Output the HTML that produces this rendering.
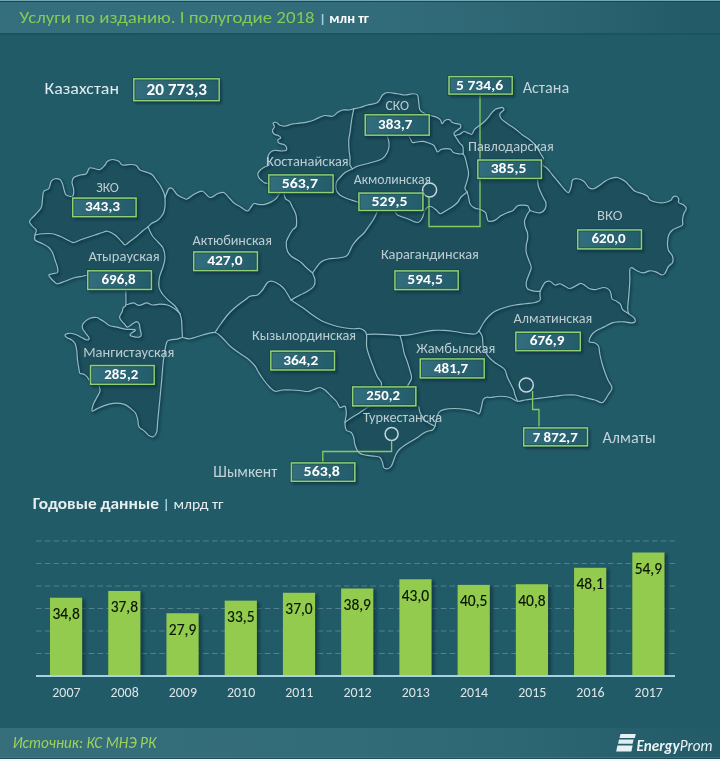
<!DOCTYPE html>
<html><head><meta charset="utf-8">
<style>
html,body{margin:0;padding:0;}
body{width:720px;height:761px;overflow:hidden;position:relative;background:#225b68;font-family:Carlito, 'Liberation Sans', sans-serif;}
#hdr{position:absolute;left:0;top:0;width:720px;height:33px;background:linear-gradient(90deg,#356e7c 0%,#326b79 55%,#2b6371 80%,#235b68 96%);}
#hl1{position:absolute;left:0;top:0;width:720px;height:1px;background:#72a6b3;}
#hl2{position:absolute;left:0;top:1px;width:720px;height:1px;background:#154957;}
#hsh{position:absolute;left:0;top:33px;width:720px;height:3px;background:linear-gradient(180deg,rgba(15,55,65,.35),rgba(15,55,65,0));}
#ftr{position:absolute;left:0;top:728px;width:720px;height:30px;background:linear-gradient(90deg,#366e7b 0%,#336c79 50%,#2d6673 75%,#255d6a 92%,#235b69 100%);}
#fl0{position:absolute;left:0;top:756.5px;width:720px;height:1px;background:rgba(80,125,138,.5);}
#fl1{position:absolute;left:0;top:757.5px;width:720px;height:1.6px;background:#214e5a;}
#fl2{position:absolute;left:0;top:759.2px;width:720px;height:2px;background:#f2f7f8;}
svg{position:absolute;left:0;top:0;}
svg text{font-family:Carlito, 'Liberation Sans', sans-serif;}
.map path{fill:none;stroke:#95bac4;stroke-width:1.2;stroke-linejoin:round;stroke-linecap:round;}
.mapsh path{fill:none;stroke:#0a2e3a;stroke-width:2.2;stroke-linejoin:round;opacity:.6}
.bs{fill:#0b2f3a;opacity:.6;filter:url(#blur1)}
.bx{fill:url(#bxg);stroke:#8fd074;stroke-width:1.55;}
.bxo{fill:none;stroke:#123b47;stroke-width:1;opacity:.6}
.bxi{fill:none;stroke:#1f4f3c;stroke-width:0.8;opacity:.7}
.grid{stroke:#8fb0ba;stroke-width:0.9;stroke-dasharray:5.5 3.3;opacity:.5}
.bar{fill:#92cb4e;}
.shd{fill:#0b2f3b;opacity:.65;filter:url(#blur2)}
.bv{font-size:15.6px;fill:#0a1406;text-anchor:middle;stroke:#0a1406;stroke-width:0.15px}
.yr{font-size:14px;fill:#dbe5e8;text-anchor:middle;}
.ld{fill:none;stroke:#86cb62;stroke-width:1.3;}
.city{fill:none;stroke:#c3d6db;stroke-width:1.5;}
</style></head><body>
<div id="hdr"></div><div id="hl1"></div><div id="hl2"></div><div id="hsh"></div>
<div id="ftr"></div><div id="fl0"></div><div id="fl1"></div><div id="fl2"></div>
<svg width="720" height="761" viewBox="0 0 720 761">
<defs>
<filter id="blur0" x="-5%" y="-5%" width="110%" height="110%"><feGaussianBlur stdDeviation="0.8"/></filter>
<filter id="blur1" x="-20%" y="-40%" width="140%" height="180%"><feGaussianBlur stdDeviation="1.3"/></filter>
<filter id="blur2" x="-30%" y="-10%" width="160%" height="120%"><feGaussianBlur stdDeviation="1.5"/></filter>
<linearGradient id="bxg" x1="0" x2="1" y1="0" y2="0"><stop offset="0" stop-color="#326e7e"/><stop offset="1" stop-color="#235c6a"/></linearGradient>
</defs>
<rect x="321.8" y="14" width="1.6" height="11" fill="#9ccfe0"/>
<path d="M35,235 L36.25,230 L32.5,226.25 L29.5,221.25 L35,215 L41.25,207.5 L42.5,198.75 L43.75,191.25 L48.75,188.75 L51.25,181.25 L55,178.75 L60,179.5 L62.5,183.75 L64.5,191.25 L66.25,195 L72.5,196.25 L73.75,190 L72,182.5 L73.75,177.5 L80,175 L86.25,173.75 L89.5,168 L95,168.75 L100,169.5 L105,165 L107.5,161.25 L112.5,159.5 L118.75,161.25 L122.5,165 L130,164.5 L136.25,165.5 L140,170 L147.5,172.5 L152.5,175 L156.25,180 L160,185 L163.75,192.5 L165,197.5 L165,197.5 L168.75,188.75 L172.5,188.75 L177.5,195 L185,198.75 L187.5,198.75 L195,193.75 L202.5,191.25 L210,197.5 L217.5,193.75 L223.75,192.5 L230,198.75 L234,203 L240,206.5 L247.5,211 L251,207 L254,203.5 L258,204.4 L264.7,204.4 L270.3,202.4 L275.8,198.9 L278.6,194.7 L280,193 L275,190 L269,183.6 L264.7,182.9 L261.9,180.8 L259.2,178.1 L257.8,173.9 L260.6,169.7 L264.7,166.9 L268.9,164.9 L268.2,160 L268.2,155.8 L270.3,152.4 L274.4,150.3 L281.4,151 L286.25,150.3 L286.25,146.8 L284.2,144.7 L279.3,143.3 L277.9,139.9 L280.7,137.8 L278.6,135.7 L274.4,134.3 L272.4,130.8 L274.4,126.7 L273.1,123.2 L276.5,122.5 L280,125.3 L285.6,126 L292.5,123.9 L299.4,123.2 L307.8,121.8 L314.7,119.7 L318.9,117.6 L325,115.5 L332.5,116.25 L337.5,112.5 L342.5,110 L348.75,110 L353.75,108.75 L360,107.5 L367.5,105 L377.5,102.5 L382.5,95 L387.5,92.5 L397.5,93.75 L405,95 L412.5,93.75 L417.5,95 L418.75,102.5 L420,110 L425,113.75 L430,115.5 L436.3,117.1 L440.2,119.7 L442.2,123.7 L444.8,120.4 L449.4,119.7 L452,122.3 L456,123.7 L459.9,124.3 L460.6,127.6 L457.3,130.2 L454,132.9 L454.7,135.5 L459.9,134.2 L463.9,131.5 L467.8,132.9 L471.8,134.2 L474.4,129.6 L478.3,126.3 L483.6,122.3 L487.5,118.4 L491.5,113.1 L495.4,109.2 L500,107.9 L502.5,107.5 L503.75,110 L500,113.75 L501.25,118.75 L507.5,123.75 L515,128.75 L522.5,135 L530,140 L536.25,146.25 L540,152.5 L543.75,158.75 L542,164 L543.75,166 L547.5,168.75 L552.5,175 L558.75,182.5 L565,190 L568.75,192.5 L571.25,186.25 L572.5,180 L577.5,178.75 L583.75,181.25 L588.75,187.5 L593.75,188.75 L600,185 L605,181.25 L610,178.75 L617.5,177.5 L625,181.25 L630,186.25 L635,191.25 L642.5,193.75 L647.5,196.25 L650,200 L657.5,202.5 L665,202.5 L671.25,200 L672.5,197.5 L676.25,196.25 L678.75,198.75 L678.75,202.5 L683.75,205 L686.25,208.75 L683.75,213.75 L682.5,220 L682.5,225 L677.5,227.5 L672.5,230 L668.75,235 L667.5,242.5 L668.3,250 L672.5,256.25 L672.5,262.5 L668.3,266.7 L665.2,272.9 L662.1,275 L655.8,271.9 L649.6,270.8 L643.3,272.9 L637.1,270.8 L631.9,267.7 L629.8,269.8 L629.8,281.25 L628.75,295.8 L627.7,308.3 L628.75,313.5 L634,317.7 L635,321.9 L630.8,322.9 L624.6,321.9 L618.3,321.9 L612.1,322.9 L603.75,327.1 L595.4,331.25 L591.25,335.4 L589.2,341.7 L594.4,342.7 L598.5,346 L600,355 L602.5,365 L605,372.5 L608,380 L612,388 L608,395 L602.5,402.5 L595,400 L585,397.5 L575,395 L565,395 L555,396.25 L545,397.5 L535,398.75 L525,400 L517.5,401.25 L510,397.5 L500,396.25 L490,397.5 L487.5,397.1 L483.3,399.2 L481.25,407.5 L479.2,413.75 L475,411.7 L466.7,409.6 L454.2,408.5 L443.75,409.6 L438.75,412.5 L436.25,420 L435,426.25 L432.5,430 L427.5,431.25 L422.5,433.75 L417.5,437.5 L411.25,441.25 L405,445 L400,448.75 L396.25,453.75 L393.75,460 L391.25,466.25 L387.5,468.75 L383.75,467.5 L382.5,462.5 L380,457.5 L375,456.25 L365,455 L358.75,452.5 L355,445 L353.75,437.5 L351.25,432.5 L346.25,430 L345,422.5 L346.25,414 L345,406.25 L340,407.5 L336.5,401.5 L331,396 L325,390 L320,387.5 L314,389.5 L308,391.5 L300,390.5 L292.5,390 L282.5,390 L275,391.25 L270,387.5 L263.75,380 L258.75,372.5 L255,366 L247.5,358.5 L240,353.5 L230,346 L222.5,338 L215,332.5 L202.5,335 L190,338.75 L182.5,337.5 L177.8,338.9 L170,340 L166.7,342.2 L164.4,353.3 L163.2,362 L162.5,370 L161.5,382 L160,397.8 L157.8,420 L156.7,432.2 L153.3,436.7 L148.9,435.6 L144.4,431.1 L138.9,426.7 L137.8,420 L135.6,413.3 L131.1,408.9 L124.4,404.4 L113.3,403.3 L104.4,405.6 L96.7,408.9 L92.2,411.1 L93.3,404.4 L96.7,397.8 L100,391.1 L98.9,385.6 L97,384 L89,380 L87.8,377.8 L84.4,374.4 L80,373.3 L78.9,368.9 L77.5,360 L76.7,350 L75,343.3 L71.7,340 L66.7,337.5 L65,335 L68.3,333.3 L75,334.2 L81.7,337.5 L86.7,340 L89.2,338.3 L85.8,333.3 L82.5,328.3 L83.3,323.3 L90,318.3 L96.7,317.5 L100,319.2 L104.2,321.7 L110,325.8 L116.7,327.1 L125,329.2 L134.2,329.6 L135,330.8 L131.7,332.9 L130,335 L133.3,336.7 L139.2,337.1 L141.25,335 L140,328.3 L139.2,323.75 L136.7,321.7 L133.3,323.3 L127.5,327.1 L124.2,323.75 L120.8,320 L119.6,316.7 L122.1,311.7 L123.3,307.5 L125.8,305 L125.8,291 L125.8,285 L88,275 L82.5,276.25 L75,277.5 L65,281.25 L57.5,283.75 L55,282.5 L51.25,278.75 L48.75,275 L52.5,273.75 L57.5,272.5 L57.5,267.5 L55,260 L52.5,252.5 L48.75,247.5 L42.5,243.75 L35,240 L35,235 Z" fill="#1d4f5d"/>
<g class="mapsh" transform="translate(1.2,1.5)" filter="url(#blur0)"><path d="M35.00,235.00 C35.21,234.17 36.67,231.46 36.25,230.00 C35.83,228.54 33.62,227.71 32.50,226.25 C31.38,224.79 29.08,223.12 29.50,221.25 C29.92,219.38 33.04,217.29 35.00,215.00 C36.96,212.71 40.00,210.21 41.25,207.50 C42.50,204.79 42.08,201.46 42.50,198.75 C42.92,196.04 42.71,192.92 43.75,191.25 C44.79,189.58 47.50,190.42 48.75,188.75 C50.00,187.08 50.21,182.92 51.25,181.25 C52.29,179.58 53.54,179.04 55.00,178.75 C56.46,178.46 58.75,178.67 60.00,179.50 C61.25,180.33 61.75,181.79 62.50,183.75 C63.25,185.71 63.88,189.38 64.50,191.25 C65.12,193.12 64.92,194.17 66.25,195.00 C67.58,195.83 71.25,197.08 72.50,196.25 C73.75,195.42 73.83,192.29 73.75,190.00 C73.67,187.71 72.00,184.58 72.00,182.50 C72.00,180.42 72.42,178.75 73.75,177.50 C75.08,176.25 77.92,175.62 80.00,175.00 C82.08,174.38 84.67,174.92 86.25,173.75 C87.83,172.58 88.04,168.83 89.50,168.00 C90.96,167.17 93.25,168.50 95.00,168.75 C96.75,169.00 98.33,170.12 100.00,169.50 C101.67,168.88 103.75,166.38 105.00,165.00 C106.25,163.62 106.25,162.17 107.50,161.25 C108.75,160.33 110.62,159.50 112.50,159.50 C114.38,159.50 117.08,160.33 118.75,161.25 C120.42,162.17 120.62,164.46 122.50,165.00 C124.38,165.54 127.71,164.42 130.00,164.50 C132.29,164.58 134.58,164.58 136.25,165.50 C137.92,166.42 138.12,168.83 140.00,170.00 C141.88,171.17 145.42,171.67 147.50,172.50 C149.58,173.33 151.04,173.75 152.50,175.00 C153.96,176.25 155.00,178.33 156.25,180.00 C157.50,181.67 158.75,182.92 160.00,185.00 C161.25,187.08 162.92,190.42 163.75,192.50 C164.58,194.58 164.79,196.67 165.00,197.50"/><path d="M165.00,197.50 C165.62,196.04 167.50,190.21 168.75,188.75 C170.00,187.29 171.04,187.71 172.50,188.75 C173.96,189.79 175.42,193.33 177.50,195.00 C179.58,196.67 183.33,198.12 185.00,198.75 C186.67,199.38 185.83,199.58 187.50,198.75 C189.17,197.92 192.50,195.00 195.00,193.75 C197.50,192.50 200.00,190.62 202.50,191.25 C205.00,191.88 207.50,197.08 210.00,197.50 C212.50,197.92 215.21,194.58 217.50,193.75 C219.79,192.92 221.67,191.67 223.75,192.50 C225.83,193.33 228.29,197.00 230.00,198.75 C231.71,200.50 232.33,201.71 234.00,203.00 C235.67,204.29 237.75,205.17 240.00,206.50 C242.25,207.83 245.67,210.92 247.50,211.00 C249.33,211.08 249.92,208.25 251.00,207.00 C252.08,205.75 252.83,203.93 254.00,203.50 C255.17,203.07 256.22,204.25 258.00,204.40 C259.78,204.55 262.65,204.73 264.70,204.40 C266.75,204.07 268.45,203.32 270.30,202.40 C272.15,201.48 274.42,200.18 275.80,198.90 C277.18,197.62 277.90,195.68 278.60,194.70 C279.30,193.72 279.77,193.28 280.00,193.00"/><path d="M269.00,183.60 C268.28,183.48 265.88,183.37 264.70,182.90 C263.52,182.43 262.82,181.60 261.90,180.80 C260.98,180.00 259.88,179.25 259.20,178.10 C258.52,176.95 257.57,175.30 257.80,173.90 C258.03,172.50 259.45,170.87 260.60,169.70 C261.75,168.53 263.32,167.70 264.70,166.90 C266.08,166.10 268.32,166.05 268.90,164.90 C269.48,163.75 268.32,161.52 268.20,160.00 C268.08,158.48 267.85,157.07 268.20,155.80 C268.55,154.53 269.27,153.32 270.30,152.40 C271.33,151.48 272.55,150.53 274.40,150.30 C276.25,150.07 279.42,151.00 281.40,151.00 C283.38,151.00 285.44,151.00 286.25,150.30 C287.06,149.60 286.59,147.73 286.25,146.80 C285.91,145.87 285.36,145.28 284.20,144.70 C283.04,144.12 280.35,144.10 279.30,143.30 C278.25,142.50 277.67,140.82 277.90,139.90 C278.13,138.98 280.58,138.50 280.70,137.80 C280.82,137.10 279.65,136.28 278.60,135.70 C277.55,135.12 275.43,135.12 274.40,134.30 C273.37,133.48 272.40,132.07 272.40,130.80 C272.40,129.53 274.28,127.97 274.40,126.70 C274.52,125.43 272.75,123.90 273.10,123.20 C273.45,122.50 275.35,122.15 276.50,122.50 C277.65,122.85 278.48,124.72 280.00,125.30 C281.52,125.88 283.52,126.23 285.60,126.00 C287.68,125.77 290.20,124.37 292.50,123.90 C294.80,123.43 296.85,123.55 299.40,123.20 C301.95,122.85 305.25,122.38 307.80,121.80 C310.35,121.22 312.85,120.40 314.70,119.70 C316.55,119.00 317.18,118.30 318.90,117.60 C320.62,116.90 322.73,115.72 325.00,115.50 C327.27,115.28 330.42,116.75 332.50,116.25 C334.58,115.75 335.83,113.54 337.50,112.50 C339.17,111.46 340.62,110.42 342.50,110.00 C344.38,109.58 346.88,110.21 348.75,110.00 C350.62,109.79 352.92,108.96 353.75,108.75"/><path d="M353.75,108.75 C354.79,108.54 357.71,108.12 360.00,107.50 C362.29,106.88 364.58,105.83 367.50,105.00 C370.42,104.17 375.00,104.17 377.50,102.50 C380.00,100.83 380.83,96.67 382.50,95.00 C384.17,93.33 385.00,92.71 387.50,92.50 C390.00,92.29 394.58,93.33 397.50,93.75 C400.42,94.17 402.50,95.00 405.00,95.00 C407.50,95.00 410.42,93.75 412.50,93.75 C414.58,93.75 416.46,93.54 417.50,95.00 C418.54,96.46 418.33,100.00 418.75,102.50 C419.17,105.00 418.96,108.12 420.00,110.00 C421.04,111.88 423.33,112.83 425.00,113.75 C426.67,114.67 428.12,114.94 430.00,115.50 C431.88,116.06 434.60,116.40 436.30,117.10 C438.00,117.80 439.22,118.60 440.20,119.70 C441.18,120.80 441.43,123.58 442.20,123.70 C442.97,123.82 443.60,121.07 444.80,120.40 C446.00,119.73 448.20,119.38 449.40,119.70 C450.60,120.02 450.90,121.63 452.00,122.30 C453.10,122.97 454.68,123.37 456.00,123.70 C457.32,124.03 459.13,123.65 459.90,124.30 C460.67,124.95 461.03,126.62 460.60,127.60 C460.17,128.58 458.40,129.32 457.30,130.20 C456.20,131.08 454.43,132.02 454.00,132.90 C453.57,133.78 454.58,135.07 454.70,135.50"/><path d="M454.70,135.50 C455.57,135.28 458.37,134.87 459.90,134.20 C461.43,133.53 462.58,131.72 463.90,131.50 C465.22,131.28 466.48,132.45 467.80,132.90 C469.12,133.35 470.70,134.75 471.80,134.20 C472.90,133.65 473.32,130.92 474.40,129.60 C475.48,128.28 476.77,127.52 478.30,126.30 C479.83,125.08 482.07,123.62 483.60,122.30 C485.13,120.98 486.18,119.93 487.50,118.40 C488.82,116.87 490.18,114.63 491.50,113.10 C492.82,111.57 493.98,110.07 495.40,109.20 C496.82,108.33 498.82,108.18 500.00,107.90 C501.18,107.62 501.88,107.15 502.50,107.50 C503.12,107.85 504.17,108.96 503.75,110.00 C503.33,111.04 500.42,112.29 500.00,113.75 C499.58,115.21 500.00,117.08 501.25,118.75 C502.50,120.42 505.21,122.08 507.50,123.75 C509.79,125.42 512.50,126.88 515.00,128.75 C517.50,130.62 520.00,133.12 522.50,135.00 C525.00,136.88 527.71,138.12 530.00,140.00 C532.29,141.88 534.58,144.17 536.25,146.25 C537.92,148.33 538.75,150.42 540.00,152.50 C541.25,154.58 543.12,157.71 543.75,158.75"/><path d="M542.00,164.00 C542.29,164.33 542.83,165.21 543.75,166.00 C544.67,166.79 546.04,167.25 547.50,168.75 C548.96,170.25 550.62,172.71 552.50,175.00 C554.38,177.29 556.67,180.00 558.75,182.50 C560.83,185.00 563.33,188.33 565.00,190.00 C566.67,191.67 567.71,193.12 568.75,192.50 C569.79,191.88 570.62,188.33 571.25,186.25 C571.88,184.17 571.46,181.25 572.50,180.00 C573.54,178.75 575.62,178.54 577.50,178.75 C579.38,178.96 581.88,179.79 583.75,181.25 C585.62,182.71 587.08,186.25 588.75,187.50 C590.42,188.75 591.88,189.17 593.75,188.75 C595.62,188.33 598.12,186.25 600.00,185.00 C601.88,183.75 603.33,182.29 605.00,181.25 C606.67,180.21 607.92,179.38 610.00,178.75 C612.08,178.12 615.00,177.08 617.50,177.50 C620.00,177.92 622.92,179.79 625.00,181.25 C627.08,182.71 628.33,184.58 630.00,186.25 C631.67,187.92 632.92,190.00 635.00,191.25 C637.08,192.50 640.42,192.92 642.50,193.75 C644.58,194.58 646.25,195.21 647.50,196.25 C648.75,197.29 648.33,198.96 650.00,200.00 C651.67,201.04 655.00,202.08 657.50,202.50 C660.00,202.92 662.71,202.92 665.00,202.50 C667.29,202.08 670.00,200.83 671.25,200.00 C672.50,199.17 671.67,198.12 672.50,197.50 C673.33,196.88 675.21,196.04 676.25,196.25 C677.29,196.46 678.33,197.71 678.75,198.75 C679.17,199.79 677.92,201.46 678.75,202.50 C679.58,203.54 682.50,203.96 683.75,205.00 C685.00,206.04 686.25,207.29 686.25,208.75 C686.25,210.21 684.38,211.88 683.75,213.75 C683.12,215.62 682.71,218.12 682.50,220.00 C682.29,221.88 683.33,223.75 682.50,225.00 C681.67,226.25 679.17,226.67 677.50,227.50 C675.83,228.33 673.96,228.75 672.50,230.00 C671.04,231.25 669.58,232.92 668.75,235.00 C667.92,237.08 667.58,240.00 667.50,242.50 C667.42,245.00 667.47,247.71 668.30,250.00 C669.13,252.29 671.80,254.17 672.50,256.25 C673.20,258.33 673.20,260.76 672.50,262.50 C671.80,264.24 669.52,264.97 668.30,266.70 C667.08,268.43 666.23,271.52 665.20,272.90 C664.17,274.28 663.67,275.17 662.10,275.00 C660.53,274.83 657.88,272.60 655.80,271.90 C653.72,271.20 651.68,270.63 649.60,270.80 C647.52,270.97 645.38,272.90 643.30,272.90 C641.22,272.90 639.00,271.67 637.10,270.80 C635.20,269.93 633.12,267.87 631.90,267.70 C630.68,267.53 630.15,267.54 629.80,269.80 C629.45,272.06 629.97,276.92 629.80,281.25 C629.62,285.58 629.10,291.29 628.75,295.80 C628.40,300.31 627.70,305.35 627.70,308.30 C627.70,311.25 627.70,311.93 628.75,313.50 C629.80,315.07 632.96,316.30 634.00,317.70 C635.04,319.10 635.53,321.03 635.00,321.90 C634.47,322.77 632.53,322.90 630.80,322.90 C629.07,322.90 626.68,322.07 624.60,321.90 C622.52,321.73 620.38,321.73 618.30,321.90 C616.22,322.07 614.52,322.03 612.10,322.90 C609.68,323.77 606.53,325.71 603.75,327.10 C600.97,328.49 597.48,329.87 595.40,331.25 C593.32,332.63 592.28,333.66 591.25,335.40 C590.22,337.14 588.68,340.48 589.20,341.70 C589.73,342.92 592.85,341.98 594.40,342.70 C595.95,343.42 597.57,343.95 598.50,346.00 C599.43,348.05 599.33,351.83 600.00,355.00 C600.67,358.17 601.67,362.08 602.50,365.00 C603.33,367.92 604.08,370.00 605.00,372.50 C605.92,375.00 606.83,377.42 608.00,380.00 C609.17,382.58 612.00,385.50 612.00,388.00 C612.00,390.50 609.58,392.58 608.00,395.00 C606.42,397.42 604.67,401.67 602.50,402.50 C600.33,403.33 597.92,400.83 595.00,400.00 C592.08,399.17 588.33,398.33 585.00,397.50 C581.67,396.67 578.33,395.42 575.00,395.00 C571.67,394.58 568.33,394.79 565.00,395.00 C561.67,395.21 558.33,395.83 555.00,396.25 C551.67,396.67 548.33,397.08 545.00,397.50 C541.67,397.92 538.33,398.33 535.00,398.75 C531.67,399.17 527.92,399.58 525.00,400.00 C522.08,400.42 520.00,401.67 517.50,401.25 C515.00,400.83 512.92,398.33 510.00,397.50 C507.08,396.67 503.33,396.25 500.00,396.25 C496.67,396.25 492.08,397.36 490.00,397.50 C487.92,397.64 488.62,396.82 487.50,397.10 C486.38,397.38 484.34,397.47 483.30,399.20 C482.26,400.93 481.93,405.07 481.25,407.50 C480.57,409.93 480.24,413.05 479.20,413.75 C478.16,414.45 477.08,412.39 475.00,411.70 C472.92,411.01 470.17,410.13 466.70,409.60 C463.23,409.07 458.02,408.50 454.20,408.50 C450.38,408.50 446.32,408.93 443.75,409.60 C441.18,410.27 440.00,410.77 438.75,412.50 C437.50,414.23 436.88,417.71 436.25,420.00 C435.62,422.29 435.62,424.58 435.00,426.25 C434.38,427.92 433.75,429.17 432.50,430.00 C431.25,430.83 429.17,430.62 427.50,431.25 C425.83,431.88 424.17,432.71 422.50,433.75 C420.83,434.79 419.38,436.25 417.50,437.50 C415.62,438.75 413.33,440.00 411.25,441.25 C409.17,442.50 406.88,443.75 405.00,445.00 C403.12,446.25 401.46,447.29 400.00,448.75 C398.54,450.21 397.29,451.88 396.25,453.75 C395.21,455.62 394.58,457.92 393.75,460.00 C392.92,462.08 392.29,464.79 391.25,466.25 C390.21,467.71 388.75,468.54 387.50,468.75 C386.25,468.96 384.58,468.54 383.75,467.50 C382.92,466.46 383.12,464.17 382.50,462.50 C381.88,460.83 381.25,458.54 380.00,457.50 C378.75,456.46 377.50,456.67 375.00,456.25 C372.50,455.83 367.71,455.62 365.00,455.00 C362.29,454.38 360.42,454.17 358.75,452.50 C357.08,450.83 355.83,447.50 355.00,445.00 C354.17,442.50 354.38,439.58 353.75,437.50 C353.12,435.42 352.50,433.75 351.25,432.50 C350.00,431.25 347.29,431.67 346.25,430.00 C345.21,428.33 345.00,425.17 345.00,422.50 C345.00,419.83 346.25,416.71 346.25,414.00 C346.25,411.29 346.04,407.33 345.00,406.25 C343.96,405.17 341.42,408.29 340.00,407.50 C338.58,406.71 338.00,403.42 336.50,401.50 C335.00,399.58 332.92,397.92 331.00,396.00 C329.08,394.08 326.83,391.42 325.00,390.00 C323.17,388.58 321.83,387.58 320.00,387.50 C318.17,387.42 316.00,388.83 314.00,389.50 C312.00,390.17 310.33,391.33 308.00,391.50 C305.67,391.67 302.58,390.75 300.00,390.50 C297.42,390.25 295.42,390.08 292.50,390.00 C289.58,389.92 285.42,389.79 282.50,390.00 C279.58,390.21 277.08,391.67 275.00,391.25 C272.92,390.83 271.88,389.38 270.00,387.50 C268.12,385.62 265.62,382.50 263.75,380.00 C261.88,377.50 260.21,374.83 258.75,372.50 C257.29,370.17 256.88,368.33 255.00,366.00 C253.12,363.67 250.00,360.58 247.50,358.50 C245.00,356.42 242.92,355.58 240.00,353.50 C237.08,351.42 232.92,348.58 230.00,346.00 C227.08,343.42 225.00,340.25 222.50,338.00 C220.00,335.75 218.33,333.00 215.00,332.50 C211.67,332.00 206.67,333.96 202.50,335.00 C198.33,336.04 193.33,338.33 190.00,338.75 C186.67,339.17 184.53,337.48 182.50,337.50 C180.47,337.52 179.88,338.48 177.80,338.90 C175.72,339.32 171.85,339.45 170.00,340.00 C168.15,340.55 167.63,339.98 166.70,342.20 C165.77,344.42 164.98,350.00 164.40,353.30 C163.82,356.60 163.52,359.22 163.20,362.00 C162.88,364.78 162.78,366.67 162.50,370.00 C162.22,373.33 161.92,377.37 161.50,382.00 C161.08,386.63 160.62,391.47 160.00,397.80 C159.38,404.13 158.35,414.27 157.80,420.00 C157.25,425.73 157.45,429.42 156.70,432.20 C155.95,434.98 154.60,436.13 153.30,436.70 C152.00,437.27 150.38,436.53 148.90,435.60 C147.42,434.67 146.07,432.58 144.40,431.10 C142.73,429.62 140.00,428.55 138.90,426.70 C137.80,424.85 138.35,422.23 137.80,420.00 C137.25,417.77 136.72,415.15 135.60,413.30 C134.48,411.45 132.97,410.38 131.10,408.90 C129.23,407.42 127.37,405.33 124.40,404.40 C121.43,403.47 116.63,403.10 113.30,403.30 C109.97,403.50 107.17,404.67 104.40,405.60 C101.63,406.53 98.73,407.98 96.70,408.90 C94.67,409.82 92.77,411.85 92.20,411.10 C91.63,410.35 92.55,406.62 93.30,404.40 C94.05,402.18 95.58,400.02 96.70,397.80 C97.82,395.58 99.63,393.13 100.00,391.10 C100.37,389.07 99.40,386.78 98.90,385.60 C98.40,384.42 97.32,384.27 97.00,384.00"/><path d="M89.00,380.00 C88.80,379.63 88.57,378.73 87.80,377.80 C87.03,376.87 85.70,375.15 84.40,374.40 C83.10,373.65 80.92,374.22 80.00,373.30 C79.08,372.38 79.32,371.12 78.90,368.90 C78.48,366.68 77.87,363.15 77.50,360.00 C77.13,356.85 77.12,352.78 76.70,350.00 C76.28,347.22 75.83,344.97 75.00,343.30 C74.17,341.63 73.08,340.97 71.70,340.00 C70.32,339.03 67.82,338.33 66.70,337.50 C65.58,336.67 64.73,335.70 65.00,335.00 C65.27,334.30 66.63,333.43 68.30,333.30 C69.97,333.17 72.77,333.50 75.00,334.20 C77.23,334.90 79.75,336.53 81.70,337.50 C83.65,338.47 85.45,339.87 86.70,340.00 C87.95,340.13 89.35,339.42 89.20,338.30 C89.05,337.18 86.92,334.97 85.80,333.30 C84.68,331.63 82.92,329.97 82.50,328.30 C82.08,326.63 82.05,324.97 83.30,323.30 C84.55,321.63 87.77,319.27 90.00,318.30 C92.23,317.33 95.03,317.35 96.70,317.50 C98.37,317.65 98.75,318.50 100.00,319.20 C101.25,319.90 102.53,320.60 104.20,321.70 C105.87,322.80 107.92,324.90 110.00,325.80 C112.08,326.70 114.20,326.53 116.70,327.10 C119.20,327.67 122.08,328.78 125.00,329.20 C127.92,329.62 132.53,329.33 134.20,329.60 C135.87,329.87 135.42,330.25 135.00,330.80 C134.58,331.35 132.53,332.20 131.70,332.90 C130.87,333.60 129.73,334.37 130.00,335.00 C130.27,335.63 131.77,336.35 133.30,336.70 C134.83,337.05 137.88,337.38 139.20,337.10 C140.52,336.82 141.12,336.47 141.25,335.00 C141.38,333.53 140.34,330.18 140.00,328.30 C139.66,326.43 139.75,324.85 139.20,323.75 C138.65,322.65 137.68,321.77 136.70,321.70 C135.72,321.62 134.83,322.40 133.30,323.30 C131.77,324.20 129.02,327.03 127.50,327.10 C125.98,327.18 125.32,324.93 124.20,323.75 C123.08,322.57 121.57,321.18 120.80,320.00 C120.03,318.82 119.38,318.08 119.60,316.70 C119.82,315.32 121.48,313.23 122.10,311.70 C122.72,310.17 122.68,308.62 123.30,307.50 C123.92,306.38 125.38,307.75 125.80,305.00 C126.22,302.25 125.80,293.33 125.80,291.00"/><path d="M35.00,235.00 C35.00,235.83 33.75,238.54 35.00,240.00 C36.25,241.46 40.21,242.50 42.50,243.75 C44.79,245.00 47.08,246.04 48.75,247.50 C50.42,248.96 51.46,250.42 52.50,252.50 C53.54,254.58 54.17,257.50 55.00,260.00 C55.83,262.50 57.08,265.42 57.50,267.50 C57.92,269.58 58.33,271.46 57.50,272.50 C56.67,273.54 53.96,273.33 52.50,273.75 C51.04,274.17 48.96,274.17 48.75,275.00 C48.54,275.83 50.21,277.50 51.25,278.75 C52.29,280.00 53.96,281.67 55.00,282.50 C56.04,283.33 55.83,283.96 57.50,283.75 C59.17,283.54 62.08,282.29 65.00,281.25 C67.92,280.21 72.08,278.33 75.00,277.50 C77.92,276.67 80.33,276.67 82.50,276.25 C84.67,275.83 87.08,275.21 88.00,275.00"/><path d="M165.00,197.50 C165.00,199.00 165.28,203.83 165.00,206.50 C164.72,209.17 164.47,211.25 163.30,213.50 C162.13,215.75 159.97,218.33 158.00,220.00 C156.03,221.67 153.17,222.33 151.50,223.50 C149.83,224.67 148.58,226.42 148.00,227.00"/><path d="M148.00,227.00 C147.08,227.67 144.33,229.50 142.50,231.00 C140.67,232.50 139.08,234.29 137.00,236.00 C134.92,237.71 132.00,239.75 130.00,241.25 C128.00,242.75 126.25,244.79 125.00,245.00 C123.75,245.21 124.17,244.17 122.50,242.50 C120.83,240.83 117.50,236.88 115.00,235.00 C112.50,233.12 109.58,231.67 107.50,231.25 C105.42,230.83 104.58,231.88 102.50,232.50 C100.42,233.12 97.50,234.17 95.00,235.00 C92.50,235.83 90.00,236.67 87.50,237.50 C85.00,238.33 82.29,239.17 80.00,240.00 C77.71,240.83 75.42,242.29 73.75,242.50 C72.08,242.71 72.29,242.29 70.00,241.25 C67.71,240.21 62.92,237.50 60.00,236.25 C57.08,235.00 55.42,234.17 52.50,233.75 C49.58,233.33 45.42,233.54 42.50,233.75 C39.58,233.96 36.25,234.79 35.00,235.00"/><path d="M148.00,227.00 C148.75,228.50 150.83,233.50 152.50,236.00 C154.17,238.50 156.25,240.00 158.00,242.00 C159.75,244.00 161.83,245.42 163.00,248.00 C164.17,250.58 165.00,254.33 165.00,257.50 C165.00,260.67 163.92,263.75 163.00,267.00 C162.08,270.25 160.17,273.67 159.50,277.00 C158.83,280.33 158.50,284.17 159.00,287.00 C159.50,289.83 161.00,291.83 162.50,294.00 C164.00,296.17 165.92,298.00 168.00,300.00 C170.08,302.00 173.00,303.71 175.00,306.00 C177.00,308.29 179.17,312.46 180.00,313.75"/><path d="M125.80,305.00 C127.05,304.65 131.07,302.83 133.30,302.90 C135.53,302.97 136.97,305.40 139.20,305.40 C141.43,305.40 144.48,302.97 146.70,302.90 C148.92,302.83 150.28,304.78 152.50,305.00 C154.72,305.22 157.50,304.20 160.00,304.20 C162.50,304.20 165.00,304.20 167.50,305.00 C170.00,305.80 172.92,307.54 175.00,309.00 C177.08,310.46 179.17,312.96 180.00,313.75"/><path d="M180.00,313.75 C180.25,314.79 181.17,317.46 181.50,320.00 C181.83,322.54 181.83,326.08 182.00,329.00 C182.17,331.92 182.42,336.08 182.50,337.50"/><path d="M284.00,193.50 C284.27,194.40 284.65,197.53 285.60,198.90 C286.55,200.27 288.55,200.32 289.70,201.70 C290.85,203.08 291.70,205.65 292.50,207.20 C293.30,208.75 293.88,209.49 294.50,211.00 C295.12,212.51 295.96,213.71 296.25,216.25 C296.54,218.79 296.88,223.96 296.25,226.25 C295.62,228.54 293.75,228.33 292.50,230.00 C291.25,231.67 289.79,234.17 288.75,236.25 C287.71,238.33 286.46,240.00 286.25,242.50 C286.04,245.00 286.67,248.96 287.50,251.25 C288.33,253.54 289.58,254.79 291.25,256.25 C292.92,257.71 295.83,258.96 297.50,260.00 C299.17,261.04 299.79,261.25 301.25,262.50 C302.71,263.75 304.38,265.75 306.25,267.50 C308.12,269.25 311.46,272.08 312.50,273.00"/><path d="M312.50,273.00 C313.08,272.17 314.58,269.83 316.00,268.00 C317.42,266.17 319.00,263.50 321.00,262.00 C323.00,260.50 325.17,259.67 328.00,259.00 C330.83,258.33 334.92,258.50 338.00,258.00 C341.08,257.50 344.50,257.25 346.50,256.00 C348.50,254.75 348.92,252.42 350.00,250.50 C351.08,248.58 351.58,246.58 353.00,244.50 C354.42,242.42 356.67,239.92 358.50,238.00 C360.33,236.08 362.25,235.00 364.00,233.00 C365.75,231.00 367.33,228.42 369.00,226.00 C370.67,223.58 372.58,221.00 374.00,218.50 C375.42,216.00 376.92,212.25 377.50,211.00"/><path d="M352.50,168.75 C351.25,169.38 347.08,171.04 345.00,172.50 C342.92,173.96 341.46,175.83 340.00,177.50 C338.54,179.17 336.88,180.42 336.25,182.50 C335.62,184.58 335.62,187.92 336.25,190.00 C336.88,192.08 338.12,193.54 340.00,195.00 C341.88,196.46 345.00,197.71 347.50,198.75 C350.00,199.79 353.08,200.62 355.00,201.25 C356.92,201.88 358.33,202.29 359.00,202.50"/><path d="M353.75,108.75 C353.54,109.79 352.92,112.71 352.50,115.00 C352.08,117.29 351.67,119.58 351.25,122.50 C350.83,125.42 350.42,129.58 350.00,132.50 C349.58,135.42 348.92,137.08 348.75,140.00 C348.58,142.92 348.79,147.08 349.00,150.00 C349.21,152.92 349.83,155.00 350.00,157.50 C350.17,160.00 349.58,163.12 350.00,165.00 C350.42,166.88 352.08,168.12 352.50,168.75"/><path d="M352.50,168.75 C353.42,168.29 355.75,166.79 358.00,166.00 C360.25,165.21 363.17,164.75 366.00,164.00 C368.83,163.25 372.25,162.42 375.00,161.50 C377.75,160.58 380.50,159.92 382.50,158.50 C384.50,157.08 385.92,155.00 387.00,153.00 C388.08,151.00 388.75,148.67 389.00,146.50 C389.25,144.33 388.92,141.92 388.50,140.00 C388.08,138.08 386.83,135.83 386.50,135.00"/><path d="M408.00,135.00 C408.33,135.50 409.25,136.75 410.00,138.00 C410.75,139.25 411.40,141.83 412.50,142.50 C413.60,143.17 414.83,142.18 416.60,142.00 C418.37,141.82 420.92,141.17 423.10,141.40 C425.28,141.63 427.93,142.75 429.70,143.40 C431.47,144.05 432.60,144.22 433.70,145.30 C434.80,146.38 435.65,148.80 436.30,149.90 C436.95,151.00 436.73,152.00 437.60,151.90 C438.47,151.80 439.97,149.85 441.50,149.30 C443.03,148.75 445.27,148.60 446.80,148.60 C448.33,148.60 449.60,148.63 450.70,149.30 C451.80,149.97 452.08,151.83 453.40,152.60 C454.72,153.37 456.97,153.68 458.60,153.90 C460.23,154.12 462.43,153.90 463.20,153.90"/><path d="M454.70,135.50 C455.13,136.15 456.43,138.08 457.30,139.40 C458.17,140.72 459.02,142.30 459.90,143.40 C460.78,144.50 462.05,144.92 462.60,146.00 C463.15,147.08 463.10,148.58 463.20,149.90 C463.30,151.22 463.20,153.23 463.20,153.90"/><path d="M463.20,153.90 C463.53,154.55 464.53,155.77 465.20,157.80 C465.87,159.83 466.63,163.45 467.20,166.10 C467.77,168.75 468.72,170.90 468.60,173.70 C468.48,176.50 467.12,180.47 466.50,182.90 C465.88,185.33 464.78,186.77 464.90,188.30 C465.02,189.83 466.82,191.47 467.20,192.10"/><path d="M395.00,211.00 C395.42,211.67 395.42,213.71 397.50,215.00 C399.58,216.29 404.17,217.50 407.50,218.75 C410.83,220.00 415.00,222.71 417.50,222.50 C420.00,222.29 421.25,219.58 422.50,217.50 C423.75,215.42 423.75,211.88 425.00,210.00 C426.25,208.12 428.12,206.25 430.00,206.25 C431.88,206.25 434.58,208.75 436.25,210.00 C437.92,211.25 438.54,213.54 440.00,213.75 C441.46,213.96 443.00,212.38 445.00,211.25 C447.00,210.12 449.92,208.46 452.00,207.00 C454.08,205.54 455.98,204.17 457.50,202.50 C459.02,200.83 459.48,198.73 461.10,197.00 C462.72,195.27 466.18,192.92 467.20,192.10"/><path d="M467.20,192.10 C467.46,193.12 468.23,196.17 468.75,198.20 C469.27,200.23 469.28,202.65 470.30,204.30 C471.32,205.95 473.12,207.20 474.90,208.10 C476.68,209.00 479.22,208.93 481.00,209.70 C482.78,210.47 484.58,211.30 485.60,212.70 C486.62,214.10 486.60,216.70 487.10,218.10 C487.60,219.50 487.33,220.72 488.60,221.10 C489.87,221.48 492.67,221.28 494.70,220.40 C496.73,219.52 498.75,217.08 500.80,215.80 C502.85,214.52 504.95,213.60 507.00,212.70 C509.05,211.80 511.33,211.55 513.10,210.40 C514.87,209.25 516.08,206.68 517.60,205.80 C519.12,204.92 520.53,205.10 522.20,205.10 C523.87,205.10 526.32,204.92 527.60,205.80 C528.88,206.68 529.52,209.63 529.90,210.40"/><path d="M529.90,210.40 C530.67,210.67 532.72,211.62 534.50,212.00 C536.28,212.38 538.83,213.22 540.60,212.70 C542.37,212.18 544.22,210.55 545.10,208.90 C545.98,207.25 546.15,204.58 545.90,202.80 C545.65,201.02 544.48,199.98 543.60,198.20 C542.72,196.42 541.48,194.13 540.60,192.10 C539.72,190.07 538.82,188.18 538.30,186.00 C537.78,183.82 537.63,180.17 537.50,179.00"/><path d="M529.90,210.40 C529.38,211.17 527.70,213.22 526.80,215.00 C525.90,216.78 524.75,219.07 524.50,221.10 C524.25,223.13 524.80,225.22 525.30,227.20 C525.80,229.18 527.12,230.97 527.50,233.00 C527.88,235.03 527.81,237.40 527.60,239.40 C527.39,241.40 526.48,242.82 526.25,245.00 C526.02,247.18 525.83,250.00 526.25,252.50 C526.67,255.00 527.92,257.50 528.75,260.00 C529.58,262.50 531.25,265.00 531.25,267.50 C531.25,270.00 529.58,272.50 528.75,275.00 C527.92,277.50 526.46,280.21 526.25,282.50 C526.04,284.79 526.04,287.29 527.50,288.75 C528.96,290.21 532.92,290.83 535.00,291.25 C537.08,291.67 539.17,291.25 540.00,291.25"/><path d="M540.00,291.25 C540.83,289.79 543.33,284.17 545.00,282.50 C546.67,280.83 548.33,280.83 550.00,281.25 C551.67,281.67 553.33,284.58 555.00,285.00 C556.67,285.42 558.33,283.54 560.00,283.75 C561.67,283.96 563.33,285.46 565.00,286.25 C566.67,287.04 568.05,288.64 570.00,288.50 C571.95,288.36 574.90,286.27 576.70,285.40 C578.50,284.53 579.42,283.30 580.80,283.30 C582.18,283.30 583.60,284.53 585.00,285.40 C586.40,286.27 587.47,287.80 589.20,288.50 C590.93,289.20 592.98,289.77 595.40,289.60 C597.82,289.43 601.48,287.50 603.75,287.50 C606.02,287.50 607.79,288.56 609.00,289.60 C610.21,290.64 610.48,292.18 611.00,293.75 C611.52,295.32 611.23,297.79 612.10,299.00 C612.98,300.21 614.87,300.13 616.25,301.00 C617.63,301.87 619.36,302.80 620.40,304.20 C621.44,305.60 621.45,308.02 622.50,309.40 C623.55,310.78 625.62,311.73 626.70,312.50 C627.78,313.27 628.62,313.75 629.00,314.00"/><path d="M540.00,291.25 C540.00,291.88 540.00,293.54 540.00,295.00 C540.00,296.46 540.83,298.75 540.00,300.00 C539.17,301.25 537.50,301.88 535.00,302.50 C532.50,303.12 528.33,303.33 525.00,303.75 C521.67,304.17 518.33,304.38 515.00,305.00 C511.67,305.62 508.33,306.46 505.00,307.50 C501.67,308.54 497.71,309.79 495.00,311.25 C492.29,312.71 490.62,314.38 488.75,316.25 C486.88,318.12 485.38,320.04 483.75,322.50 C482.12,324.96 479.79,329.58 479.00,331.00"/><path d="M400.00,335.60 C401.73,335.43 406.93,335.12 410.40,334.60 C413.87,334.08 416.98,333.20 420.80,332.50 C424.62,331.80 429.48,330.75 433.30,330.40 C437.12,330.05 440.27,330.22 443.75,330.40 C447.23,330.58 450.38,330.98 454.20,331.50 C458.02,332.02 463.23,333.08 466.70,333.50 C470.17,333.92 472.95,334.42 475.00,334.00 C477.05,333.58 478.33,331.50 479.00,331.00"/><path d="M479.00,331.00 C479.55,331.95 481.58,334.02 482.30,336.70 C483.02,339.38 482.43,343.98 483.30,347.10 C484.17,350.22 485.76,352.97 487.50,355.40 C489.24,357.83 491.67,359.97 493.75,361.70 C495.83,363.43 498.12,364.42 500.00,365.80 C501.88,367.18 503.75,368.05 505.00,370.00 C506.25,371.95 506.46,375.00 507.50,377.50 C508.54,380.00 510.21,382.92 511.25,385.00 C512.29,387.08 513.12,388.33 513.75,390.00 C514.38,391.67 514.38,393.17 515.00,395.00 C515.62,396.83 517.08,400.00 517.50,401.00"/><path d="M291.00,300.00 C292.92,301.25 298.92,305.00 302.50,307.50 C306.08,310.00 309.17,312.71 312.50,315.00 C315.83,317.29 319.17,319.58 322.50,321.25 C325.83,322.92 329.17,323.96 332.50,325.00 C335.83,326.04 339.17,326.88 342.50,327.50 C345.83,328.12 349.58,328.58 352.50,328.75 C355.42,328.92 357.92,328.08 360.00,328.50 C362.08,328.92 363.92,330.25 365.00,331.25 C366.08,332.25 366.25,333.96 366.50,334.50"/><path d="M366.50,334.50 C367.92,334.45 371.50,334.18 375.00,334.20 C378.50,334.22 383.33,334.37 387.50,334.60 C391.67,334.83 397.92,335.43 400.00,335.60"/><path d="M366.50,334.50 C366.53,334.87 366.67,334.60 366.70,336.70 C366.73,338.80 366.18,343.63 366.70,347.10 C367.22,350.57 368.77,354.38 369.80,357.50 C370.83,360.62 371.68,362.68 372.90,365.80 C374.12,368.93 375.71,373.47 377.10,376.25 C378.49,379.03 380.56,380.71 381.25,382.50 C381.94,384.29 381.25,386.25 381.25,387.00"/><path d="M370.00,406.50 C369.58,406.67 369.17,406.50 367.50,407.50 C365.83,408.50 362.92,410.62 360.00,412.50 C357.08,414.38 352.50,417.08 350.00,418.75 C347.50,420.42 345.83,421.88 345.00,422.50"/><path d="M400.00,335.60 C400.35,336.82 401.40,339.95 402.10,342.90 C402.80,345.85 403.33,350.17 404.20,353.30 C405.07,356.43 406.27,358.57 407.30,361.70 C408.33,364.83 409.70,369.33 410.40,372.10 C411.10,374.87 411.85,376.22 411.50,378.30 C411.15,380.38 409.05,383.15 408.30,384.60 C407.55,386.05 407.22,386.60 407.00,387.00"/><path d="M418.75,406.50 C418.93,407.37 419.28,410.15 419.80,411.70 C420.32,413.25 421.20,414.42 421.90,415.80 C422.60,417.18 422.65,418.68 424.00,420.00 C425.35,421.32 428.17,422.71 430.00,423.75 C431.83,424.79 434.17,425.83 435.00,426.25"/><path d="M215.00,332.50 C215.83,331.25 217.92,327.92 220.00,325.00 C222.08,322.08 225.00,317.92 227.50,315.00 C230.00,312.08 232.08,310.00 235.00,307.50 C237.92,305.00 242.50,301.88 245.00,300.00 C247.50,298.12 247.92,297.08 250.00,296.25 C252.08,295.42 255.42,296.04 257.50,295.00 C259.58,293.96 260.83,292.08 262.50,290.00 C264.17,287.92 265.83,283.96 267.50,282.50 C269.17,281.04 270.42,280.83 272.50,281.25 C274.58,281.67 277.92,283.54 280.00,285.00 C282.08,286.46 283.17,287.50 285.00,290.00 C286.83,292.50 290.00,298.33 291.00,300.00"/><path d="M291.00,300.00 C292.50,299.17 297.25,296.46 300.00,295.00 C302.75,293.54 305.21,292.71 307.50,291.25 C309.79,289.79 312.50,288.12 313.75,286.25 C315.00,284.38 315.21,282.21 315.00,280.00 C314.79,277.79 312.92,274.17 312.50,273.00"/></g>
<g class="map"><path d="M35.00,235.00 C35.21,234.17 36.67,231.46 36.25,230.00 C35.83,228.54 33.62,227.71 32.50,226.25 C31.38,224.79 29.08,223.12 29.50,221.25 C29.92,219.38 33.04,217.29 35.00,215.00 C36.96,212.71 40.00,210.21 41.25,207.50 C42.50,204.79 42.08,201.46 42.50,198.75 C42.92,196.04 42.71,192.92 43.75,191.25 C44.79,189.58 47.50,190.42 48.75,188.75 C50.00,187.08 50.21,182.92 51.25,181.25 C52.29,179.58 53.54,179.04 55.00,178.75 C56.46,178.46 58.75,178.67 60.00,179.50 C61.25,180.33 61.75,181.79 62.50,183.75 C63.25,185.71 63.88,189.38 64.50,191.25 C65.12,193.12 64.92,194.17 66.25,195.00 C67.58,195.83 71.25,197.08 72.50,196.25 C73.75,195.42 73.83,192.29 73.75,190.00 C73.67,187.71 72.00,184.58 72.00,182.50 C72.00,180.42 72.42,178.75 73.75,177.50 C75.08,176.25 77.92,175.62 80.00,175.00 C82.08,174.38 84.67,174.92 86.25,173.75 C87.83,172.58 88.04,168.83 89.50,168.00 C90.96,167.17 93.25,168.50 95.00,168.75 C96.75,169.00 98.33,170.12 100.00,169.50 C101.67,168.88 103.75,166.38 105.00,165.00 C106.25,163.62 106.25,162.17 107.50,161.25 C108.75,160.33 110.62,159.50 112.50,159.50 C114.38,159.50 117.08,160.33 118.75,161.25 C120.42,162.17 120.62,164.46 122.50,165.00 C124.38,165.54 127.71,164.42 130.00,164.50 C132.29,164.58 134.58,164.58 136.25,165.50 C137.92,166.42 138.12,168.83 140.00,170.00 C141.88,171.17 145.42,171.67 147.50,172.50 C149.58,173.33 151.04,173.75 152.50,175.00 C153.96,176.25 155.00,178.33 156.25,180.00 C157.50,181.67 158.75,182.92 160.00,185.00 C161.25,187.08 162.92,190.42 163.75,192.50 C164.58,194.58 164.79,196.67 165.00,197.50"/><path d="M165.00,197.50 C165.62,196.04 167.50,190.21 168.75,188.75 C170.00,187.29 171.04,187.71 172.50,188.75 C173.96,189.79 175.42,193.33 177.50,195.00 C179.58,196.67 183.33,198.12 185.00,198.75 C186.67,199.38 185.83,199.58 187.50,198.75 C189.17,197.92 192.50,195.00 195.00,193.75 C197.50,192.50 200.00,190.62 202.50,191.25 C205.00,191.88 207.50,197.08 210.00,197.50 C212.50,197.92 215.21,194.58 217.50,193.75 C219.79,192.92 221.67,191.67 223.75,192.50 C225.83,193.33 228.29,197.00 230.00,198.75 C231.71,200.50 232.33,201.71 234.00,203.00 C235.67,204.29 237.75,205.17 240.00,206.50 C242.25,207.83 245.67,210.92 247.50,211.00 C249.33,211.08 249.92,208.25 251.00,207.00 C252.08,205.75 252.83,203.93 254.00,203.50 C255.17,203.07 256.22,204.25 258.00,204.40 C259.78,204.55 262.65,204.73 264.70,204.40 C266.75,204.07 268.45,203.32 270.30,202.40 C272.15,201.48 274.42,200.18 275.80,198.90 C277.18,197.62 277.90,195.68 278.60,194.70 C279.30,193.72 279.77,193.28 280.00,193.00"/><path d="M269.00,183.60 C268.28,183.48 265.88,183.37 264.70,182.90 C263.52,182.43 262.82,181.60 261.90,180.80 C260.98,180.00 259.88,179.25 259.20,178.10 C258.52,176.95 257.57,175.30 257.80,173.90 C258.03,172.50 259.45,170.87 260.60,169.70 C261.75,168.53 263.32,167.70 264.70,166.90 C266.08,166.10 268.32,166.05 268.90,164.90 C269.48,163.75 268.32,161.52 268.20,160.00 C268.08,158.48 267.85,157.07 268.20,155.80 C268.55,154.53 269.27,153.32 270.30,152.40 C271.33,151.48 272.55,150.53 274.40,150.30 C276.25,150.07 279.42,151.00 281.40,151.00 C283.38,151.00 285.44,151.00 286.25,150.30 C287.06,149.60 286.59,147.73 286.25,146.80 C285.91,145.87 285.36,145.28 284.20,144.70 C283.04,144.12 280.35,144.10 279.30,143.30 C278.25,142.50 277.67,140.82 277.90,139.90 C278.13,138.98 280.58,138.50 280.70,137.80 C280.82,137.10 279.65,136.28 278.60,135.70 C277.55,135.12 275.43,135.12 274.40,134.30 C273.37,133.48 272.40,132.07 272.40,130.80 C272.40,129.53 274.28,127.97 274.40,126.70 C274.52,125.43 272.75,123.90 273.10,123.20 C273.45,122.50 275.35,122.15 276.50,122.50 C277.65,122.85 278.48,124.72 280.00,125.30 C281.52,125.88 283.52,126.23 285.60,126.00 C287.68,125.77 290.20,124.37 292.50,123.90 C294.80,123.43 296.85,123.55 299.40,123.20 C301.95,122.85 305.25,122.38 307.80,121.80 C310.35,121.22 312.85,120.40 314.70,119.70 C316.55,119.00 317.18,118.30 318.90,117.60 C320.62,116.90 322.73,115.72 325.00,115.50 C327.27,115.28 330.42,116.75 332.50,116.25 C334.58,115.75 335.83,113.54 337.50,112.50 C339.17,111.46 340.62,110.42 342.50,110.00 C344.38,109.58 346.88,110.21 348.75,110.00 C350.62,109.79 352.92,108.96 353.75,108.75"/><path d="M353.75,108.75 C354.79,108.54 357.71,108.12 360.00,107.50 C362.29,106.88 364.58,105.83 367.50,105.00 C370.42,104.17 375.00,104.17 377.50,102.50 C380.00,100.83 380.83,96.67 382.50,95.00 C384.17,93.33 385.00,92.71 387.50,92.50 C390.00,92.29 394.58,93.33 397.50,93.75 C400.42,94.17 402.50,95.00 405.00,95.00 C407.50,95.00 410.42,93.75 412.50,93.75 C414.58,93.75 416.46,93.54 417.50,95.00 C418.54,96.46 418.33,100.00 418.75,102.50 C419.17,105.00 418.96,108.12 420.00,110.00 C421.04,111.88 423.33,112.83 425.00,113.75 C426.67,114.67 428.12,114.94 430.00,115.50 C431.88,116.06 434.60,116.40 436.30,117.10 C438.00,117.80 439.22,118.60 440.20,119.70 C441.18,120.80 441.43,123.58 442.20,123.70 C442.97,123.82 443.60,121.07 444.80,120.40 C446.00,119.73 448.20,119.38 449.40,119.70 C450.60,120.02 450.90,121.63 452.00,122.30 C453.10,122.97 454.68,123.37 456.00,123.70 C457.32,124.03 459.13,123.65 459.90,124.30 C460.67,124.95 461.03,126.62 460.60,127.60 C460.17,128.58 458.40,129.32 457.30,130.20 C456.20,131.08 454.43,132.02 454.00,132.90 C453.57,133.78 454.58,135.07 454.70,135.50"/><path d="M454.70,135.50 C455.57,135.28 458.37,134.87 459.90,134.20 C461.43,133.53 462.58,131.72 463.90,131.50 C465.22,131.28 466.48,132.45 467.80,132.90 C469.12,133.35 470.70,134.75 471.80,134.20 C472.90,133.65 473.32,130.92 474.40,129.60 C475.48,128.28 476.77,127.52 478.30,126.30 C479.83,125.08 482.07,123.62 483.60,122.30 C485.13,120.98 486.18,119.93 487.50,118.40 C488.82,116.87 490.18,114.63 491.50,113.10 C492.82,111.57 493.98,110.07 495.40,109.20 C496.82,108.33 498.82,108.18 500.00,107.90 C501.18,107.62 501.88,107.15 502.50,107.50 C503.12,107.85 504.17,108.96 503.75,110.00 C503.33,111.04 500.42,112.29 500.00,113.75 C499.58,115.21 500.00,117.08 501.25,118.75 C502.50,120.42 505.21,122.08 507.50,123.75 C509.79,125.42 512.50,126.88 515.00,128.75 C517.50,130.62 520.00,133.12 522.50,135.00 C525.00,136.88 527.71,138.12 530.00,140.00 C532.29,141.88 534.58,144.17 536.25,146.25 C537.92,148.33 538.75,150.42 540.00,152.50 C541.25,154.58 543.12,157.71 543.75,158.75"/><path d="M542.00,164.00 C542.29,164.33 542.83,165.21 543.75,166.00 C544.67,166.79 546.04,167.25 547.50,168.75 C548.96,170.25 550.62,172.71 552.50,175.00 C554.38,177.29 556.67,180.00 558.75,182.50 C560.83,185.00 563.33,188.33 565.00,190.00 C566.67,191.67 567.71,193.12 568.75,192.50 C569.79,191.88 570.62,188.33 571.25,186.25 C571.88,184.17 571.46,181.25 572.50,180.00 C573.54,178.75 575.62,178.54 577.50,178.75 C579.38,178.96 581.88,179.79 583.75,181.25 C585.62,182.71 587.08,186.25 588.75,187.50 C590.42,188.75 591.88,189.17 593.75,188.75 C595.62,188.33 598.12,186.25 600.00,185.00 C601.88,183.75 603.33,182.29 605.00,181.25 C606.67,180.21 607.92,179.38 610.00,178.75 C612.08,178.12 615.00,177.08 617.50,177.50 C620.00,177.92 622.92,179.79 625.00,181.25 C627.08,182.71 628.33,184.58 630.00,186.25 C631.67,187.92 632.92,190.00 635.00,191.25 C637.08,192.50 640.42,192.92 642.50,193.75 C644.58,194.58 646.25,195.21 647.50,196.25 C648.75,197.29 648.33,198.96 650.00,200.00 C651.67,201.04 655.00,202.08 657.50,202.50 C660.00,202.92 662.71,202.92 665.00,202.50 C667.29,202.08 670.00,200.83 671.25,200.00 C672.50,199.17 671.67,198.12 672.50,197.50 C673.33,196.88 675.21,196.04 676.25,196.25 C677.29,196.46 678.33,197.71 678.75,198.75 C679.17,199.79 677.92,201.46 678.75,202.50 C679.58,203.54 682.50,203.96 683.75,205.00 C685.00,206.04 686.25,207.29 686.25,208.75 C686.25,210.21 684.38,211.88 683.75,213.75 C683.12,215.62 682.71,218.12 682.50,220.00 C682.29,221.88 683.33,223.75 682.50,225.00 C681.67,226.25 679.17,226.67 677.50,227.50 C675.83,228.33 673.96,228.75 672.50,230.00 C671.04,231.25 669.58,232.92 668.75,235.00 C667.92,237.08 667.58,240.00 667.50,242.50 C667.42,245.00 667.47,247.71 668.30,250.00 C669.13,252.29 671.80,254.17 672.50,256.25 C673.20,258.33 673.20,260.76 672.50,262.50 C671.80,264.24 669.52,264.97 668.30,266.70 C667.08,268.43 666.23,271.52 665.20,272.90 C664.17,274.28 663.67,275.17 662.10,275.00 C660.53,274.83 657.88,272.60 655.80,271.90 C653.72,271.20 651.68,270.63 649.60,270.80 C647.52,270.97 645.38,272.90 643.30,272.90 C641.22,272.90 639.00,271.67 637.10,270.80 C635.20,269.93 633.12,267.87 631.90,267.70 C630.68,267.53 630.15,267.54 629.80,269.80 C629.45,272.06 629.97,276.92 629.80,281.25 C629.62,285.58 629.10,291.29 628.75,295.80 C628.40,300.31 627.70,305.35 627.70,308.30 C627.70,311.25 627.70,311.93 628.75,313.50 C629.80,315.07 632.96,316.30 634.00,317.70 C635.04,319.10 635.53,321.03 635.00,321.90 C634.47,322.77 632.53,322.90 630.80,322.90 C629.07,322.90 626.68,322.07 624.60,321.90 C622.52,321.73 620.38,321.73 618.30,321.90 C616.22,322.07 614.52,322.03 612.10,322.90 C609.68,323.77 606.53,325.71 603.75,327.10 C600.97,328.49 597.48,329.87 595.40,331.25 C593.32,332.63 592.28,333.66 591.25,335.40 C590.22,337.14 588.68,340.48 589.20,341.70 C589.73,342.92 592.85,341.98 594.40,342.70 C595.95,343.42 597.57,343.95 598.50,346.00 C599.43,348.05 599.33,351.83 600.00,355.00 C600.67,358.17 601.67,362.08 602.50,365.00 C603.33,367.92 604.08,370.00 605.00,372.50 C605.92,375.00 606.83,377.42 608.00,380.00 C609.17,382.58 612.00,385.50 612.00,388.00 C612.00,390.50 609.58,392.58 608.00,395.00 C606.42,397.42 604.67,401.67 602.50,402.50 C600.33,403.33 597.92,400.83 595.00,400.00 C592.08,399.17 588.33,398.33 585.00,397.50 C581.67,396.67 578.33,395.42 575.00,395.00 C571.67,394.58 568.33,394.79 565.00,395.00 C561.67,395.21 558.33,395.83 555.00,396.25 C551.67,396.67 548.33,397.08 545.00,397.50 C541.67,397.92 538.33,398.33 535.00,398.75 C531.67,399.17 527.92,399.58 525.00,400.00 C522.08,400.42 520.00,401.67 517.50,401.25 C515.00,400.83 512.92,398.33 510.00,397.50 C507.08,396.67 503.33,396.25 500.00,396.25 C496.67,396.25 492.08,397.36 490.00,397.50 C487.92,397.64 488.62,396.82 487.50,397.10 C486.38,397.38 484.34,397.47 483.30,399.20 C482.26,400.93 481.93,405.07 481.25,407.50 C480.57,409.93 480.24,413.05 479.20,413.75 C478.16,414.45 477.08,412.39 475.00,411.70 C472.92,411.01 470.17,410.13 466.70,409.60 C463.23,409.07 458.02,408.50 454.20,408.50 C450.38,408.50 446.32,408.93 443.75,409.60 C441.18,410.27 440.00,410.77 438.75,412.50 C437.50,414.23 436.88,417.71 436.25,420.00 C435.62,422.29 435.62,424.58 435.00,426.25 C434.38,427.92 433.75,429.17 432.50,430.00 C431.25,430.83 429.17,430.62 427.50,431.25 C425.83,431.88 424.17,432.71 422.50,433.75 C420.83,434.79 419.38,436.25 417.50,437.50 C415.62,438.75 413.33,440.00 411.25,441.25 C409.17,442.50 406.88,443.75 405.00,445.00 C403.12,446.25 401.46,447.29 400.00,448.75 C398.54,450.21 397.29,451.88 396.25,453.75 C395.21,455.62 394.58,457.92 393.75,460.00 C392.92,462.08 392.29,464.79 391.25,466.25 C390.21,467.71 388.75,468.54 387.50,468.75 C386.25,468.96 384.58,468.54 383.75,467.50 C382.92,466.46 383.12,464.17 382.50,462.50 C381.88,460.83 381.25,458.54 380.00,457.50 C378.75,456.46 377.50,456.67 375.00,456.25 C372.50,455.83 367.71,455.62 365.00,455.00 C362.29,454.38 360.42,454.17 358.75,452.50 C357.08,450.83 355.83,447.50 355.00,445.00 C354.17,442.50 354.38,439.58 353.75,437.50 C353.12,435.42 352.50,433.75 351.25,432.50 C350.00,431.25 347.29,431.67 346.25,430.00 C345.21,428.33 345.00,425.17 345.00,422.50 C345.00,419.83 346.25,416.71 346.25,414.00 C346.25,411.29 346.04,407.33 345.00,406.25 C343.96,405.17 341.42,408.29 340.00,407.50 C338.58,406.71 338.00,403.42 336.50,401.50 C335.00,399.58 332.92,397.92 331.00,396.00 C329.08,394.08 326.83,391.42 325.00,390.00 C323.17,388.58 321.83,387.58 320.00,387.50 C318.17,387.42 316.00,388.83 314.00,389.50 C312.00,390.17 310.33,391.33 308.00,391.50 C305.67,391.67 302.58,390.75 300.00,390.50 C297.42,390.25 295.42,390.08 292.50,390.00 C289.58,389.92 285.42,389.79 282.50,390.00 C279.58,390.21 277.08,391.67 275.00,391.25 C272.92,390.83 271.88,389.38 270.00,387.50 C268.12,385.62 265.62,382.50 263.75,380.00 C261.88,377.50 260.21,374.83 258.75,372.50 C257.29,370.17 256.88,368.33 255.00,366.00 C253.12,363.67 250.00,360.58 247.50,358.50 C245.00,356.42 242.92,355.58 240.00,353.50 C237.08,351.42 232.92,348.58 230.00,346.00 C227.08,343.42 225.00,340.25 222.50,338.00 C220.00,335.75 218.33,333.00 215.00,332.50 C211.67,332.00 206.67,333.96 202.50,335.00 C198.33,336.04 193.33,338.33 190.00,338.75 C186.67,339.17 184.53,337.48 182.50,337.50 C180.47,337.52 179.88,338.48 177.80,338.90 C175.72,339.32 171.85,339.45 170.00,340.00 C168.15,340.55 167.63,339.98 166.70,342.20 C165.77,344.42 164.98,350.00 164.40,353.30 C163.82,356.60 163.52,359.22 163.20,362.00 C162.88,364.78 162.78,366.67 162.50,370.00 C162.22,373.33 161.92,377.37 161.50,382.00 C161.08,386.63 160.62,391.47 160.00,397.80 C159.38,404.13 158.35,414.27 157.80,420.00 C157.25,425.73 157.45,429.42 156.70,432.20 C155.95,434.98 154.60,436.13 153.30,436.70 C152.00,437.27 150.38,436.53 148.90,435.60 C147.42,434.67 146.07,432.58 144.40,431.10 C142.73,429.62 140.00,428.55 138.90,426.70 C137.80,424.85 138.35,422.23 137.80,420.00 C137.25,417.77 136.72,415.15 135.60,413.30 C134.48,411.45 132.97,410.38 131.10,408.90 C129.23,407.42 127.37,405.33 124.40,404.40 C121.43,403.47 116.63,403.10 113.30,403.30 C109.97,403.50 107.17,404.67 104.40,405.60 C101.63,406.53 98.73,407.98 96.70,408.90 C94.67,409.82 92.77,411.85 92.20,411.10 C91.63,410.35 92.55,406.62 93.30,404.40 C94.05,402.18 95.58,400.02 96.70,397.80 C97.82,395.58 99.63,393.13 100.00,391.10 C100.37,389.07 99.40,386.78 98.90,385.60 C98.40,384.42 97.32,384.27 97.00,384.00"/><path d="M89.00,380.00 C88.80,379.63 88.57,378.73 87.80,377.80 C87.03,376.87 85.70,375.15 84.40,374.40 C83.10,373.65 80.92,374.22 80.00,373.30 C79.08,372.38 79.32,371.12 78.90,368.90 C78.48,366.68 77.87,363.15 77.50,360.00 C77.13,356.85 77.12,352.78 76.70,350.00 C76.28,347.22 75.83,344.97 75.00,343.30 C74.17,341.63 73.08,340.97 71.70,340.00 C70.32,339.03 67.82,338.33 66.70,337.50 C65.58,336.67 64.73,335.70 65.00,335.00 C65.27,334.30 66.63,333.43 68.30,333.30 C69.97,333.17 72.77,333.50 75.00,334.20 C77.23,334.90 79.75,336.53 81.70,337.50 C83.65,338.47 85.45,339.87 86.70,340.00 C87.95,340.13 89.35,339.42 89.20,338.30 C89.05,337.18 86.92,334.97 85.80,333.30 C84.68,331.63 82.92,329.97 82.50,328.30 C82.08,326.63 82.05,324.97 83.30,323.30 C84.55,321.63 87.77,319.27 90.00,318.30 C92.23,317.33 95.03,317.35 96.70,317.50 C98.37,317.65 98.75,318.50 100.00,319.20 C101.25,319.90 102.53,320.60 104.20,321.70 C105.87,322.80 107.92,324.90 110.00,325.80 C112.08,326.70 114.20,326.53 116.70,327.10 C119.20,327.67 122.08,328.78 125.00,329.20 C127.92,329.62 132.53,329.33 134.20,329.60 C135.87,329.87 135.42,330.25 135.00,330.80 C134.58,331.35 132.53,332.20 131.70,332.90 C130.87,333.60 129.73,334.37 130.00,335.00 C130.27,335.63 131.77,336.35 133.30,336.70 C134.83,337.05 137.88,337.38 139.20,337.10 C140.52,336.82 141.12,336.47 141.25,335.00 C141.38,333.53 140.34,330.18 140.00,328.30 C139.66,326.43 139.75,324.85 139.20,323.75 C138.65,322.65 137.68,321.77 136.70,321.70 C135.72,321.62 134.83,322.40 133.30,323.30 C131.77,324.20 129.02,327.03 127.50,327.10 C125.98,327.18 125.32,324.93 124.20,323.75 C123.08,322.57 121.57,321.18 120.80,320.00 C120.03,318.82 119.38,318.08 119.60,316.70 C119.82,315.32 121.48,313.23 122.10,311.70 C122.72,310.17 122.68,308.62 123.30,307.50 C123.92,306.38 125.38,307.75 125.80,305.00 C126.22,302.25 125.80,293.33 125.80,291.00"/><path d="M35.00,235.00 C35.00,235.83 33.75,238.54 35.00,240.00 C36.25,241.46 40.21,242.50 42.50,243.75 C44.79,245.00 47.08,246.04 48.75,247.50 C50.42,248.96 51.46,250.42 52.50,252.50 C53.54,254.58 54.17,257.50 55.00,260.00 C55.83,262.50 57.08,265.42 57.50,267.50 C57.92,269.58 58.33,271.46 57.50,272.50 C56.67,273.54 53.96,273.33 52.50,273.75 C51.04,274.17 48.96,274.17 48.75,275.00 C48.54,275.83 50.21,277.50 51.25,278.75 C52.29,280.00 53.96,281.67 55.00,282.50 C56.04,283.33 55.83,283.96 57.50,283.75 C59.17,283.54 62.08,282.29 65.00,281.25 C67.92,280.21 72.08,278.33 75.00,277.50 C77.92,276.67 80.33,276.67 82.50,276.25 C84.67,275.83 87.08,275.21 88.00,275.00"/><path d="M165.00,197.50 C165.00,199.00 165.28,203.83 165.00,206.50 C164.72,209.17 164.47,211.25 163.30,213.50 C162.13,215.75 159.97,218.33 158.00,220.00 C156.03,221.67 153.17,222.33 151.50,223.50 C149.83,224.67 148.58,226.42 148.00,227.00"/><path d="M148.00,227.00 C147.08,227.67 144.33,229.50 142.50,231.00 C140.67,232.50 139.08,234.29 137.00,236.00 C134.92,237.71 132.00,239.75 130.00,241.25 C128.00,242.75 126.25,244.79 125.00,245.00 C123.75,245.21 124.17,244.17 122.50,242.50 C120.83,240.83 117.50,236.88 115.00,235.00 C112.50,233.12 109.58,231.67 107.50,231.25 C105.42,230.83 104.58,231.88 102.50,232.50 C100.42,233.12 97.50,234.17 95.00,235.00 C92.50,235.83 90.00,236.67 87.50,237.50 C85.00,238.33 82.29,239.17 80.00,240.00 C77.71,240.83 75.42,242.29 73.75,242.50 C72.08,242.71 72.29,242.29 70.00,241.25 C67.71,240.21 62.92,237.50 60.00,236.25 C57.08,235.00 55.42,234.17 52.50,233.75 C49.58,233.33 45.42,233.54 42.50,233.75 C39.58,233.96 36.25,234.79 35.00,235.00"/><path d="M148.00,227.00 C148.75,228.50 150.83,233.50 152.50,236.00 C154.17,238.50 156.25,240.00 158.00,242.00 C159.75,244.00 161.83,245.42 163.00,248.00 C164.17,250.58 165.00,254.33 165.00,257.50 C165.00,260.67 163.92,263.75 163.00,267.00 C162.08,270.25 160.17,273.67 159.50,277.00 C158.83,280.33 158.50,284.17 159.00,287.00 C159.50,289.83 161.00,291.83 162.50,294.00 C164.00,296.17 165.92,298.00 168.00,300.00 C170.08,302.00 173.00,303.71 175.00,306.00 C177.00,308.29 179.17,312.46 180.00,313.75"/><path d="M125.80,305.00 C127.05,304.65 131.07,302.83 133.30,302.90 C135.53,302.97 136.97,305.40 139.20,305.40 C141.43,305.40 144.48,302.97 146.70,302.90 C148.92,302.83 150.28,304.78 152.50,305.00 C154.72,305.22 157.50,304.20 160.00,304.20 C162.50,304.20 165.00,304.20 167.50,305.00 C170.00,305.80 172.92,307.54 175.00,309.00 C177.08,310.46 179.17,312.96 180.00,313.75"/><path d="M180.00,313.75 C180.25,314.79 181.17,317.46 181.50,320.00 C181.83,322.54 181.83,326.08 182.00,329.00 C182.17,331.92 182.42,336.08 182.50,337.50"/><path d="M284.00,193.50 C284.27,194.40 284.65,197.53 285.60,198.90 C286.55,200.27 288.55,200.32 289.70,201.70 C290.85,203.08 291.70,205.65 292.50,207.20 C293.30,208.75 293.88,209.49 294.50,211.00 C295.12,212.51 295.96,213.71 296.25,216.25 C296.54,218.79 296.88,223.96 296.25,226.25 C295.62,228.54 293.75,228.33 292.50,230.00 C291.25,231.67 289.79,234.17 288.75,236.25 C287.71,238.33 286.46,240.00 286.25,242.50 C286.04,245.00 286.67,248.96 287.50,251.25 C288.33,253.54 289.58,254.79 291.25,256.25 C292.92,257.71 295.83,258.96 297.50,260.00 C299.17,261.04 299.79,261.25 301.25,262.50 C302.71,263.75 304.38,265.75 306.25,267.50 C308.12,269.25 311.46,272.08 312.50,273.00"/><path d="M312.50,273.00 C313.08,272.17 314.58,269.83 316.00,268.00 C317.42,266.17 319.00,263.50 321.00,262.00 C323.00,260.50 325.17,259.67 328.00,259.00 C330.83,258.33 334.92,258.50 338.00,258.00 C341.08,257.50 344.50,257.25 346.50,256.00 C348.50,254.75 348.92,252.42 350.00,250.50 C351.08,248.58 351.58,246.58 353.00,244.50 C354.42,242.42 356.67,239.92 358.50,238.00 C360.33,236.08 362.25,235.00 364.00,233.00 C365.75,231.00 367.33,228.42 369.00,226.00 C370.67,223.58 372.58,221.00 374.00,218.50 C375.42,216.00 376.92,212.25 377.50,211.00"/><path d="M352.50,168.75 C351.25,169.38 347.08,171.04 345.00,172.50 C342.92,173.96 341.46,175.83 340.00,177.50 C338.54,179.17 336.88,180.42 336.25,182.50 C335.62,184.58 335.62,187.92 336.25,190.00 C336.88,192.08 338.12,193.54 340.00,195.00 C341.88,196.46 345.00,197.71 347.50,198.75 C350.00,199.79 353.08,200.62 355.00,201.25 C356.92,201.88 358.33,202.29 359.00,202.50"/><path d="M353.75,108.75 C353.54,109.79 352.92,112.71 352.50,115.00 C352.08,117.29 351.67,119.58 351.25,122.50 C350.83,125.42 350.42,129.58 350.00,132.50 C349.58,135.42 348.92,137.08 348.75,140.00 C348.58,142.92 348.79,147.08 349.00,150.00 C349.21,152.92 349.83,155.00 350.00,157.50 C350.17,160.00 349.58,163.12 350.00,165.00 C350.42,166.88 352.08,168.12 352.50,168.75"/><path d="M352.50,168.75 C353.42,168.29 355.75,166.79 358.00,166.00 C360.25,165.21 363.17,164.75 366.00,164.00 C368.83,163.25 372.25,162.42 375.00,161.50 C377.75,160.58 380.50,159.92 382.50,158.50 C384.50,157.08 385.92,155.00 387.00,153.00 C388.08,151.00 388.75,148.67 389.00,146.50 C389.25,144.33 388.92,141.92 388.50,140.00 C388.08,138.08 386.83,135.83 386.50,135.00"/><path d="M408.00,135.00 C408.33,135.50 409.25,136.75 410.00,138.00 C410.75,139.25 411.40,141.83 412.50,142.50 C413.60,143.17 414.83,142.18 416.60,142.00 C418.37,141.82 420.92,141.17 423.10,141.40 C425.28,141.63 427.93,142.75 429.70,143.40 C431.47,144.05 432.60,144.22 433.70,145.30 C434.80,146.38 435.65,148.80 436.30,149.90 C436.95,151.00 436.73,152.00 437.60,151.90 C438.47,151.80 439.97,149.85 441.50,149.30 C443.03,148.75 445.27,148.60 446.80,148.60 C448.33,148.60 449.60,148.63 450.70,149.30 C451.80,149.97 452.08,151.83 453.40,152.60 C454.72,153.37 456.97,153.68 458.60,153.90 C460.23,154.12 462.43,153.90 463.20,153.90"/><path d="M454.70,135.50 C455.13,136.15 456.43,138.08 457.30,139.40 C458.17,140.72 459.02,142.30 459.90,143.40 C460.78,144.50 462.05,144.92 462.60,146.00 C463.15,147.08 463.10,148.58 463.20,149.90 C463.30,151.22 463.20,153.23 463.20,153.90"/><path d="M463.20,153.90 C463.53,154.55 464.53,155.77 465.20,157.80 C465.87,159.83 466.63,163.45 467.20,166.10 C467.77,168.75 468.72,170.90 468.60,173.70 C468.48,176.50 467.12,180.47 466.50,182.90 C465.88,185.33 464.78,186.77 464.90,188.30 C465.02,189.83 466.82,191.47 467.20,192.10"/><path d="M395.00,211.00 C395.42,211.67 395.42,213.71 397.50,215.00 C399.58,216.29 404.17,217.50 407.50,218.75 C410.83,220.00 415.00,222.71 417.50,222.50 C420.00,222.29 421.25,219.58 422.50,217.50 C423.75,215.42 423.75,211.88 425.00,210.00 C426.25,208.12 428.12,206.25 430.00,206.25 C431.88,206.25 434.58,208.75 436.25,210.00 C437.92,211.25 438.54,213.54 440.00,213.75 C441.46,213.96 443.00,212.38 445.00,211.25 C447.00,210.12 449.92,208.46 452.00,207.00 C454.08,205.54 455.98,204.17 457.50,202.50 C459.02,200.83 459.48,198.73 461.10,197.00 C462.72,195.27 466.18,192.92 467.20,192.10"/><path d="M467.20,192.10 C467.46,193.12 468.23,196.17 468.75,198.20 C469.27,200.23 469.28,202.65 470.30,204.30 C471.32,205.95 473.12,207.20 474.90,208.10 C476.68,209.00 479.22,208.93 481.00,209.70 C482.78,210.47 484.58,211.30 485.60,212.70 C486.62,214.10 486.60,216.70 487.10,218.10 C487.60,219.50 487.33,220.72 488.60,221.10 C489.87,221.48 492.67,221.28 494.70,220.40 C496.73,219.52 498.75,217.08 500.80,215.80 C502.85,214.52 504.95,213.60 507.00,212.70 C509.05,211.80 511.33,211.55 513.10,210.40 C514.87,209.25 516.08,206.68 517.60,205.80 C519.12,204.92 520.53,205.10 522.20,205.10 C523.87,205.10 526.32,204.92 527.60,205.80 C528.88,206.68 529.52,209.63 529.90,210.40"/><path d="M529.90,210.40 C530.67,210.67 532.72,211.62 534.50,212.00 C536.28,212.38 538.83,213.22 540.60,212.70 C542.37,212.18 544.22,210.55 545.10,208.90 C545.98,207.25 546.15,204.58 545.90,202.80 C545.65,201.02 544.48,199.98 543.60,198.20 C542.72,196.42 541.48,194.13 540.60,192.10 C539.72,190.07 538.82,188.18 538.30,186.00 C537.78,183.82 537.63,180.17 537.50,179.00"/><path d="M529.90,210.40 C529.38,211.17 527.70,213.22 526.80,215.00 C525.90,216.78 524.75,219.07 524.50,221.10 C524.25,223.13 524.80,225.22 525.30,227.20 C525.80,229.18 527.12,230.97 527.50,233.00 C527.88,235.03 527.81,237.40 527.60,239.40 C527.39,241.40 526.48,242.82 526.25,245.00 C526.02,247.18 525.83,250.00 526.25,252.50 C526.67,255.00 527.92,257.50 528.75,260.00 C529.58,262.50 531.25,265.00 531.25,267.50 C531.25,270.00 529.58,272.50 528.75,275.00 C527.92,277.50 526.46,280.21 526.25,282.50 C526.04,284.79 526.04,287.29 527.50,288.75 C528.96,290.21 532.92,290.83 535.00,291.25 C537.08,291.67 539.17,291.25 540.00,291.25"/><path d="M540.00,291.25 C540.83,289.79 543.33,284.17 545.00,282.50 C546.67,280.83 548.33,280.83 550.00,281.25 C551.67,281.67 553.33,284.58 555.00,285.00 C556.67,285.42 558.33,283.54 560.00,283.75 C561.67,283.96 563.33,285.46 565.00,286.25 C566.67,287.04 568.05,288.64 570.00,288.50 C571.95,288.36 574.90,286.27 576.70,285.40 C578.50,284.53 579.42,283.30 580.80,283.30 C582.18,283.30 583.60,284.53 585.00,285.40 C586.40,286.27 587.47,287.80 589.20,288.50 C590.93,289.20 592.98,289.77 595.40,289.60 C597.82,289.43 601.48,287.50 603.75,287.50 C606.02,287.50 607.79,288.56 609.00,289.60 C610.21,290.64 610.48,292.18 611.00,293.75 C611.52,295.32 611.23,297.79 612.10,299.00 C612.98,300.21 614.87,300.13 616.25,301.00 C617.63,301.87 619.36,302.80 620.40,304.20 C621.44,305.60 621.45,308.02 622.50,309.40 C623.55,310.78 625.62,311.73 626.70,312.50 C627.78,313.27 628.62,313.75 629.00,314.00"/><path d="M540.00,291.25 C540.00,291.88 540.00,293.54 540.00,295.00 C540.00,296.46 540.83,298.75 540.00,300.00 C539.17,301.25 537.50,301.88 535.00,302.50 C532.50,303.12 528.33,303.33 525.00,303.75 C521.67,304.17 518.33,304.38 515.00,305.00 C511.67,305.62 508.33,306.46 505.00,307.50 C501.67,308.54 497.71,309.79 495.00,311.25 C492.29,312.71 490.62,314.38 488.75,316.25 C486.88,318.12 485.38,320.04 483.75,322.50 C482.12,324.96 479.79,329.58 479.00,331.00"/><path d="M400.00,335.60 C401.73,335.43 406.93,335.12 410.40,334.60 C413.87,334.08 416.98,333.20 420.80,332.50 C424.62,331.80 429.48,330.75 433.30,330.40 C437.12,330.05 440.27,330.22 443.75,330.40 C447.23,330.58 450.38,330.98 454.20,331.50 C458.02,332.02 463.23,333.08 466.70,333.50 C470.17,333.92 472.95,334.42 475.00,334.00 C477.05,333.58 478.33,331.50 479.00,331.00"/><path d="M479.00,331.00 C479.55,331.95 481.58,334.02 482.30,336.70 C483.02,339.38 482.43,343.98 483.30,347.10 C484.17,350.22 485.76,352.97 487.50,355.40 C489.24,357.83 491.67,359.97 493.75,361.70 C495.83,363.43 498.12,364.42 500.00,365.80 C501.88,367.18 503.75,368.05 505.00,370.00 C506.25,371.95 506.46,375.00 507.50,377.50 C508.54,380.00 510.21,382.92 511.25,385.00 C512.29,387.08 513.12,388.33 513.75,390.00 C514.38,391.67 514.38,393.17 515.00,395.00 C515.62,396.83 517.08,400.00 517.50,401.00"/><path d="M291.00,300.00 C292.92,301.25 298.92,305.00 302.50,307.50 C306.08,310.00 309.17,312.71 312.50,315.00 C315.83,317.29 319.17,319.58 322.50,321.25 C325.83,322.92 329.17,323.96 332.50,325.00 C335.83,326.04 339.17,326.88 342.50,327.50 C345.83,328.12 349.58,328.58 352.50,328.75 C355.42,328.92 357.92,328.08 360.00,328.50 C362.08,328.92 363.92,330.25 365.00,331.25 C366.08,332.25 366.25,333.96 366.50,334.50"/><path d="M366.50,334.50 C367.92,334.45 371.50,334.18 375.00,334.20 C378.50,334.22 383.33,334.37 387.50,334.60 C391.67,334.83 397.92,335.43 400.00,335.60"/><path d="M366.50,334.50 C366.53,334.87 366.67,334.60 366.70,336.70 C366.73,338.80 366.18,343.63 366.70,347.10 C367.22,350.57 368.77,354.38 369.80,357.50 C370.83,360.62 371.68,362.68 372.90,365.80 C374.12,368.93 375.71,373.47 377.10,376.25 C378.49,379.03 380.56,380.71 381.25,382.50 C381.94,384.29 381.25,386.25 381.25,387.00"/><path d="M370.00,406.50 C369.58,406.67 369.17,406.50 367.50,407.50 C365.83,408.50 362.92,410.62 360.00,412.50 C357.08,414.38 352.50,417.08 350.00,418.75 C347.50,420.42 345.83,421.88 345.00,422.50"/><path d="M400.00,335.60 C400.35,336.82 401.40,339.95 402.10,342.90 C402.80,345.85 403.33,350.17 404.20,353.30 C405.07,356.43 406.27,358.57 407.30,361.70 C408.33,364.83 409.70,369.33 410.40,372.10 C411.10,374.87 411.85,376.22 411.50,378.30 C411.15,380.38 409.05,383.15 408.30,384.60 C407.55,386.05 407.22,386.60 407.00,387.00"/><path d="M418.75,406.50 C418.93,407.37 419.28,410.15 419.80,411.70 C420.32,413.25 421.20,414.42 421.90,415.80 C422.60,417.18 422.65,418.68 424.00,420.00 C425.35,421.32 428.17,422.71 430.00,423.75 C431.83,424.79 434.17,425.83 435.00,426.25"/><path d="M215.00,332.50 C215.83,331.25 217.92,327.92 220.00,325.00 C222.08,322.08 225.00,317.92 227.50,315.00 C230.00,312.08 232.08,310.00 235.00,307.50 C237.92,305.00 242.50,301.88 245.00,300.00 C247.50,298.12 247.92,297.08 250.00,296.25 C252.08,295.42 255.42,296.04 257.50,295.00 C259.58,293.96 260.83,292.08 262.50,290.00 C264.17,287.92 265.83,283.96 267.50,282.50 C269.17,281.04 270.42,280.83 272.50,281.25 C274.58,281.67 277.92,283.54 280.00,285.00 C282.08,286.46 283.17,287.50 285.00,290.00 C286.83,292.50 290.00,298.33 291.00,300.00"/><path d="M291.00,300.00 C292.50,299.17 297.25,296.46 300.00,295.00 C302.75,293.54 305.21,292.71 307.50,291.25 C309.79,289.79 312.50,288.12 313.75,286.25 C315.00,284.38 315.21,282.21 315.00,280.00 C314.79,277.79 312.92,274.17 312.50,273.00"/></g>
<circle class="city" cx="429.6" cy="190" r="7"/>
<circle class="city" cx="526.25" cy="385" r="7"/>
<circle class="city" cx="391.6" cy="434" r="6.5"/>
<polyline class="ld" points="429,197 429,226.5 480,226.5 480,95"/>
<polyline class="ld" points="532.6,391 532.6,409.5 539,409.5 539,427"/>
<polyline class="ld" points="391.6,440.5 391.6,451.5 322.8,451.5 322.8,462"/>
<rect class="bs" x="135.0" y="80.5" width="87.0" height="23.5"/><rect class="bs" x="450.2" y="78.3" width="64.8" height="19.1"/><rect class="bs" x="366.4" y="116.5" width="65.6" height="22.0"/><rect class="bs" x="479.0" y="161.7" width="65.2" height="20.0"/><rect class="bs" x="270.0" y="176.6" width="65.9" height="19.2"/><rect class="bs" x="360.1" y="194.8" width="65.6" height="19.0"/><rect class="bs" x="73.9" y="199.8" width="65.0" height="20.2"/><rect class="bs" x="578.9" y="231.6" width="65.4" height="20.7"/><rect class="bs" x="194.9" y="253.6" width="65.3" height="20.3"/><rect class="bs" x="88.9" y="272.5" width="65.3" height="20.2"/><rect class="bs" x="396.1" y="272.6" width="64.9" height="20.3"/><rect class="bs" x="517.0" y="333.9" width="66.1" height="20.1"/><rect class="bs" x="272.0" y="352.8" width="65.3" height="20.5"/><rect class="bs" x="421.4" y="360.6" width="65.6" height="20.6"/><rect class="bs" x="91.7" y="367.2" width="65.3" height="20.4"/><rect class="bs" x="353.9" y="388.6" width="64.8" height="20.6"/><rect class="bs" x="524.9" y="429.6" width="65.4" height="19.6"/><rect class="bs" x="292.6" y="464.6" width="65.1" height="20.0"/><rect class="bxo" x="132.70" y="77.70" width="87.60" height="24.10"/><rect class="bx" x="133.85" y="78.85" width="85.30" height="21.80"/><rect class="bxi" x="135.10" y="80.10" width="82.80" height="19.30"/><rect class="bxo" x="447.90" y="75.50" width="65.40" height="19.70"/><rect class="bx" x="449.05" y="76.65" width="63.10" height="17.40"/><rect class="bxi" x="450.30" y="77.90" width="60.60" height="14.90"/><rect class="bxo" x="364.10" y="113.70" width="66.20" height="22.60"/><rect class="bx" x="365.25" y="114.85" width="63.90" height="20.30"/><rect class="bxi" x="366.50" y="116.10" width="61.40" height="17.80"/><rect class="bxo" x="476.70" y="158.90" width="65.80" height="20.60"/><rect class="bx" x="477.85" y="160.05" width="63.50" height="18.30"/><rect class="bxi" x="479.10" y="161.30" width="61.00" height="15.80"/><rect class="bxo" x="267.70" y="173.80" width="66.50" height="19.80"/><rect class="bx" x="268.85" y="174.95" width="64.20" height="17.50"/><rect class="bxi" x="270.10" y="176.20" width="61.70" height="15.00"/><rect class="bxo" x="357.80" y="191.95" width="66.25" height="19.60"/><rect class="bx" x="358.95" y="193.10" width="63.95" height="17.30"/><rect class="bxi" x="360.20" y="194.35" width="61.45" height="14.80"/><rect class="bxo" x="71.60" y="196.95" width="65.60" height="20.85"/><rect class="bx" x="72.75" y="198.10" width="63.30" height="18.55"/><rect class="bxi" x="74.00" y="199.35" width="60.80" height="16.05"/><rect class="bxo" x="576.60" y="228.80" width="65.95" height="21.25"/><rect class="bx" x="577.75" y="229.95" width="63.65" height="18.95"/><rect class="bxi" x="579.00" y="231.20" width="61.15" height="16.45"/><rect class="bxo" x="192.60" y="250.80" width="65.90" height="20.90"/><rect class="bx" x="193.75" y="251.95" width="63.60" height="18.60"/><rect class="bxi" x="195.00" y="253.20" width="61.10" height="16.10"/><rect class="bxo" x="86.60" y="269.70" width="65.95" height="20.85"/><rect class="bx" x="87.75" y="270.85" width="63.65" height="18.55"/><rect class="bxi" x="89.00" y="272.10" width="61.15" height="16.05"/><rect class="bxo" x="393.80" y="269.80" width="65.50" height="20.90"/><rect class="bx" x="394.95" y="270.95" width="63.20" height="18.60"/><rect class="bxi" x="396.20" y="272.20" width="60.70" height="16.10"/><rect class="bxo" x="514.70" y="331.10" width="66.70" height="20.70"/><rect class="bx" x="515.85" y="332.25" width="64.40" height="18.40"/><rect class="bxi" x="517.10" y="333.50" width="61.90" height="15.90"/><rect class="bxo" x="269.70" y="350.00" width="65.90" height="21.10"/><rect class="bx" x="270.85" y="351.15" width="63.60" height="18.80"/><rect class="bxi" x="272.10" y="352.40" width="61.10" height="16.30"/><rect class="bxo" x="419.10" y="357.80" width="66.20" height="21.25"/><rect class="bx" x="420.25" y="358.95" width="63.90" height="18.95"/><rect class="bxi" x="421.50" y="360.20" width="61.40" height="16.45"/><rect class="bxo" x="89.40" y="364.40" width="65.90" height="21.00"/><rect class="bx" x="90.55" y="365.55" width="63.60" height="18.70"/><rect class="bxi" x="91.80" y="366.80" width="61.10" height="16.20"/><rect class="bxo" x="351.60" y="385.80" width="65.40" height="21.20"/><rect class="bx" x="352.75" y="386.95" width="63.10" height="18.90"/><rect class="bxi" x="354.00" y="388.20" width="60.60" height="16.40"/><rect class="bxo" x="522.60" y="426.80" width="66.00" height="20.20"/><rect class="bx" x="523.75" y="427.95" width="63.70" height="17.90"/><rect class="bxi" x="525.00" y="429.20" width="61.20" height="15.40"/><rect class="bxo" x="290.30" y="461.80" width="65.70" height="20.60"/><rect class="bx" x="291.45" y="462.95" width="63.40" height="18.30"/><rect class="bxi" x="292.70" y="464.20" width="60.90" height="15.80"/>
<text x="19.30" y="23" textLength="295.28" lengthAdjust="spacingAndGlyphs" style="font-size:16.8px;font-weight:normal;font-style:normal;fill:#84cb55">Услуги по изданию. I полугодие 2018</text>
<text x="329.30" y="23" textLength="39.69" lengthAdjust="spacingAndGlyphs" style="font-size:14.2px;font-weight:bold;font-style:normal;fill:#ffffff">млн тг</text>
<text x="44.60" y="93.6" textLength="74.39" lengthAdjust="spacingAndGlyphs" style="font-size:17px;font-weight:normal;font-style:normal;fill:#e2ebee">Казахстан</text>
<text x="522.70" y="93.3" textLength="46.48" lengthAdjust="spacingAndGlyphs" style="font-size:15.5px;font-weight:normal;font-style:normal;fill:#c3d3d8">Астана</text>
<text x="602.50" y="442.5" textLength="53.18" lengthAdjust="spacingAndGlyphs" style="font-size:15.5px;font-weight:normal;font-style:normal;fill:#c3d3d8">Алматы</text>
<text x="213.30" y="477.2" textLength="63.98" lengthAdjust="spacingAndGlyphs" style="font-size:15.5px;font-weight:normal;font-style:normal;fill:#c3d3d8">Шымкент</text>
<text x="385.60" y="110" textLength="23.40" lengthAdjust="spacingAndGlyphs" style="font-size:13.4px;font-weight:normal;font-style:normal;fill:#bccdd2">СКО</text>
<text x="468.00" y="151.1" textLength="85.82" lengthAdjust="spacingAndGlyphs" style="font-size:13.4px;font-weight:normal;font-style:normal;fill:#bccdd2">Павлодарская</text>
<text x="266.00" y="165.5" textLength="82.66" lengthAdjust="spacingAndGlyphs" style="font-size:13.4px;font-weight:normal;font-style:normal;fill:#bccdd2">Костанайская</text>
<text x="353.75" y="184.1" textLength="77.25" lengthAdjust="spacingAndGlyphs" style="font-size:13.4px;font-weight:normal;font-style:normal;fill:#bccdd2">Акмолинская</text>
<text x="96.25" y="191.9" textLength="22.66" lengthAdjust="spacingAndGlyphs" style="font-size:13.4px;font-weight:normal;font-style:normal;fill:#bccdd2">ЗКО</text>
<text x="597.10" y="219.75" textLength="25.29" lengthAdjust="spacingAndGlyphs" style="font-size:13.4px;font-weight:normal;font-style:normal;fill:#bccdd2">ВКО</text>
<text x="192.60" y="244.6" textLength="79.28" lengthAdjust="spacingAndGlyphs" style="font-size:13.4px;font-weight:normal;font-style:normal;fill:#bccdd2">Актюбинская</text>
<text x="88.50" y="261.25" textLength="71.16" lengthAdjust="spacingAndGlyphs" style="font-size:13.4px;font-weight:normal;font-style:normal;fill:#bccdd2">Атырауская</text>
<text x="380.90" y="258.8" textLength="97.96" lengthAdjust="spacingAndGlyphs" style="font-size:13.4px;font-weight:normal;font-style:normal;fill:#bccdd2">Карагандинская</text>
<text x="513.60" y="323.05" textLength="78.65" lengthAdjust="spacingAndGlyphs" style="font-size:13.4px;font-weight:normal;font-style:normal;fill:#bccdd2">Алматинская</text>
<text x="252.00" y="340.3" textLength="104.09" lengthAdjust="spacingAndGlyphs" style="font-size:13.4px;font-weight:normal;font-style:normal;fill:#bccdd2">Кызылординская</text>
<text x="416.25" y="352.75" textLength="78.97" lengthAdjust="spacingAndGlyphs" style="font-size:13.4px;font-weight:normal;font-style:normal;fill:#bccdd2">Жамбылская</text>
<text x="83.20" y="356.9" textLength="91.18" lengthAdjust="spacingAndGlyphs" style="font-size:13.4px;font-weight:normal;font-style:normal;fill:#bccdd2">Мангистауская</text>
<text x="362.90" y="421.6" textLength="79.13" lengthAdjust="spacingAndGlyphs" style="font-size:13.4px;font-weight:normal;font-style:normal;fill:#bccdd2">Туркестанска</text>
<text x="146.50" y="94.8" textLength="60.59" lengthAdjust="spacingAndGlyphs" style="font-size:15.8px;font-weight:bold;font-style:normal;fill:#ffffff">20 773,3</text>
<text x="456.10" y="89.8" textLength="46.94" lengthAdjust="spacingAndGlyphs" style="font-size:14.4px;font-weight:bold;font-style:normal;fill:#ffffff">5 734,6</text>
<text x="378.00" y="129" textLength="34.39" lengthAdjust="spacingAndGlyphs" style="font-size:14.4px;font-weight:bold;font-style:normal;fill:#ffffff">383,7</text>
<text x="490.70" y="172.6" textLength="35.69" lengthAdjust="spacingAndGlyphs" style="font-size:14.4px;font-weight:bold;font-style:normal;fill:#ffffff">385,5</text>
<text x="281.80" y="187.8" textLength="36.09" lengthAdjust="spacingAndGlyphs" style="font-size:14.4px;font-weight:bold;font-style:normal;fill:#ffffff">563,7</text>
<text x="371.50" y="206" textLength="36.09" lengthAdjust="spacingAndGlyphs" style="font-size:14.4px;font-weight:bold;font-style:normal;fill:#ffffff">529,5</text>
<text x="85.00" y="210.6" textLength="35.14" lengthAdjust="spacingAndGlyphs" style="font-size:14.4px;font-weight:bold;font-style:normal;fill:#ffffff">343,3</text>
<text x="591.50" y="242.5" textLength="34.19" lengthAdjust="spacingAndGlyphs" style="font-size:14.4px;font-weight:bold;font-style:normal;fill:#ffffff">620,0</text>
<text x="207.20" y="264.7" textLength="35.29" lengthAdjust="spacingAndGlyphs" style="font-size:14.4px;font-weight:bold;font-style:normal;fill:#ffffff">427,0</text>
<text x="101.50" y="283.5" textLength="34.19" lengthAdjust="spacingAndGlyphs" style="font-size:14.4px;font-weight:bold;font-style:normal;fill:#ffffff">696,8</text>
<text x="407.30" y="283.85" textLength="35.59" lengthAdjust="spacingAndGlyphs" style="font-size:14.4px;font-weight:bold;font-style:normal;fill:#ffffff">594,5</text>
<text x="529.70" y="345.3" textLength="34.79" lengthAdjust="spacingAndGlyphs" style="font-size:14.4px;font-weight:bold;font-style:normal;fill:#ffffff">676,9</text>
<text x="283.20" y="364.7" textLength="35.19" lengthAdjust="spacingAndGlyphs" style="font-size:14.4px;font-weight:bold;font-style:normal;fill:#ffffff">364,2</text>
<text x="434.00" y="373.3" textLength="34.19" lengthAdjust="spacingAndGlyphs" style="font-size:14.4px;font-weight:bold;font-style:normal;fill:#ffffff">481,7</text>
<text x="104.30" y="378.6" textLength="33.99" lengthAdjust="spacingAndGlyphs" style="font-size:14.4px;font-weight:bold;font-style:normal;fill:#ffffff">285,2</text>
<text x="366.30" y="400.3" textLength="33.69" lengthAdjust="spacingAndGlyphs" style="font-size:14.4px;font-weight:bold;font-style:normal;fill:#ffffff">250,2</text>
<text x="532.70" y="441.7" textLength="45.04" lengthAdjust="spacingAndGlyphs" style="font-size:14.4px;font-weight:bold;font-style:normal;fill:#ffffff">7 872,7</text>
<text x="303.60" y="475.9" textLength="36.29" lengthAdjust="spacingAndGlyphs" style="font-size:14.4px;font-weight:bold;font-style:normal;fill:#ffffff">563,8</text>
<text x="32.80" y="509" textLength="126.11" lengthAdjust="spacingAndGlyphs" style="font-size:16px;font-weight:bold;font-style:normal;fill:#e6edef">Годовые данные</text>
<text x="173.40" y="509" textLength="50.08" lengthAdjust="spacingAndGlyphs" style="font-size:15px;font-weight:normal;font-style:normal;fill:#e6edef">млрд тг</text>
<text x="12.75" y="748" textLength="143.53" lengthAdjust="spacingAndGlyphs" style="font-size:15.5px;font-weight:normal;font-style:italic;fill:#9dd35a">Источник: КС МНЭ РК</text>

<rect x="165.5" y="499" width="1.5" height="12" fill="#9ccfe0"/>
<line class="grid" x1="36" x2="675" y1="653.5" y2="653.5"/><line class="grid" x1="36" x2="675" y1="631" y2="631"/><line class="grid" x1="36" x2="675" y1="608.5" y2="608.5"/><line class="grid" x1="36" x2="675" y1="586" y2="586"/><line class="grid" x1="36" x2="675" y1="563.5" y2="563.5"/><line class="grid" x1="36" x2="675" y1="541" y2="541"/><rect class="shd" x="53.00" y="599.20" width="32.2" height="76.80"/><rect class="shd" x="111.23" y="592.45" width="32.2" height="83.55"/><rect class="shd" x="169.46" y="614.73" width="32.2" height="61.27"/><rect class="shd" x="227.69" y="602.12" width="32.2" height="73.88"/><rect class="shd" x="285.92" y="594.25" width="32.2" height="81.75"/><rect class="shd" x="344.15" y="589.98" width="32.2" height="86.02"/><rect class="shd" x="402.38" y="580.75" width="32.2" height="95.25"/><rect class="shd" x="460.61" y="586.38" width="32.2" height="89.62"/><rect class="shd" x="518.84" y="585.70" width="32.2" height="90.30"/><rect class="shd" x="577.07" y="569.27" width="32.2" height="106.73"/><rect class="shd" x="635.30" y="553.98" width="32.2" height="122.02"/><rect class="bar" x="50.00" y="597.70" width="32.2" height="78.30"/><text class="bv" x="66.10" y="619.00" textLength="27.4" lengthAdjust="spacingAndGlyphs">34,8</text><text class="yr" x="66.40" y="697" textLength="28.2" lengthAdjust="spacingAndGlyphs">2007</text><rect class="bar" x="108.23" y="590.95" width="32.2" height="85.05"/><text class="bv" x="124.33" y="612.25" textLength="27.4" lengthAdjust="spacingAndGlyphs">37,8</text><text class="yr" x="124.63" y="697" textLength="28.2" lengthAdjust="spacingAndGlyphs">2008</text><rect class="bar" x="166.46" y="613.23" width="32.2" height="62.77"/><text class="bv" x="182.56" y="634.52" textLength="27.4" lengthAdjust="spacingAndGlyphs">27,9</text><text class="yr" x="182.86" y="697" textLength="28.2" lengthAdjust="spacingAndGlyphs">2009</text><rect class="bar" x="224.69" y="600.62" width="32.2" height="75.38"/><text class="bv" x="240.79" y="621.92" textLength="27.4" lengthAdjust="spacingAndGlyphs">33,5</text><text class="yr" x="241.09" y="697" textLength="28.2" lengthAdjust="spacingAndGlyphs">2010</text><rect class="bar" x="282.92" y="592.75" width="32.2" height="83.25"/><text class="bv" x="299.02" y="614.05" textLength="27.4" lengthAdjust="spacingAndGlyphs">37,0</text><text class="yr" x="299.32" y="697" textLength="28.2" lengthAdjust="spacingAndGlyphs">2011</text><rect class="bar" x="341.15" y="588.48" width="32.2" height="87.52"/><text class="bv" x="357.25" y="609.77" textLength="27.4" lengthAdjust="spacingAndGlyphs">38,9</text><text class="yr" x="357.55" y="697" textLength="28.2" lengthAdjust="spacingAndGlyphs">2012</text><rect class="bar" x="399.38" y="579.25" width="32.2" height="96.75"/><text class="bv" x="415.48" y="600.55" textLength="27.4" lengthAdjust="spacingAndGlyphs">43,0</text><text class="yr" x="415.78" y="697" textLength="28.2" lengthAdjust="spacingAndGlyphs">2013</text><rect class="bar" x="457.61" y="584.88" width="32.2" height="91.12"/><text class="bv" x="473.71" y="606.17" textLength="27.4" lengthAdjust="spacingAndGlyphs">40,5</text><text class="yr" x="474.01" y="697" textLength="28.2" lengthAdjust="spacingAndGlyphs">2014</text><rect class="bar" x="515.84" y="584.20" width="32.2" height="91.80"/><text class="bv" x="531.94" y="605.50" textLength="27.4" lengthAdjust="spacingAndGlyphs">40,8</text><text class="yr" x="532.24" y="697" textLength="28.2" lengthAdjust="spacingAndGlyphs">2015</text><rect class="bar" x="574.07" y="567.77" width="32.2" height="108.23"/><text class="bv" x="590.17" y="589.07" textLength="27.4" lengthAdjust="spacingAndGlyphs">48,1</text><text class="yr" x="590.47" y="697" textLength="28.2" lengthAdjust="spacingAndGlyphs">2016</text><rect class="bar" x="632.30" y="552.48" width="32.2" height="123.52"/><text class="bv" x="648.40" y="573.77" textLength="27.4" lengthAdjust="spacingAndGlyphs">54,9</text><text class="yr" x="648.70" y="697" textLength="28.2" lengthAdjust="spacingAndGlyphs">2017</text><rect x="36" y="675" width="639" height="2" fill="#a6d2e2"/>
<g>
<path d="M620.5,734 L635.8,734 L634.8,738 L619.5,738 Z" fill="#e6f2f4"/>
<path d="M619,739.6 L633.6,739.6 L632.6,743.8 L618,743.8 Z" fill="#dfeef1"/>
<path d="M617.4,745.6 L632.6,745.6 L631.4,751.6 L616.2,751.6 Z" fill="#e6f2f4"/>
</g>
<text x="636.5" y="750.5" textLength="76" lengthAdjust="spacingAndGlyphs" style="font-size:15.5px;font-weight:bold;font-style:italic;fill:#e8f3f5">Energy<tspan style="font-weight:normal">Prom</tspan></text>
</svg>
</body></html>
